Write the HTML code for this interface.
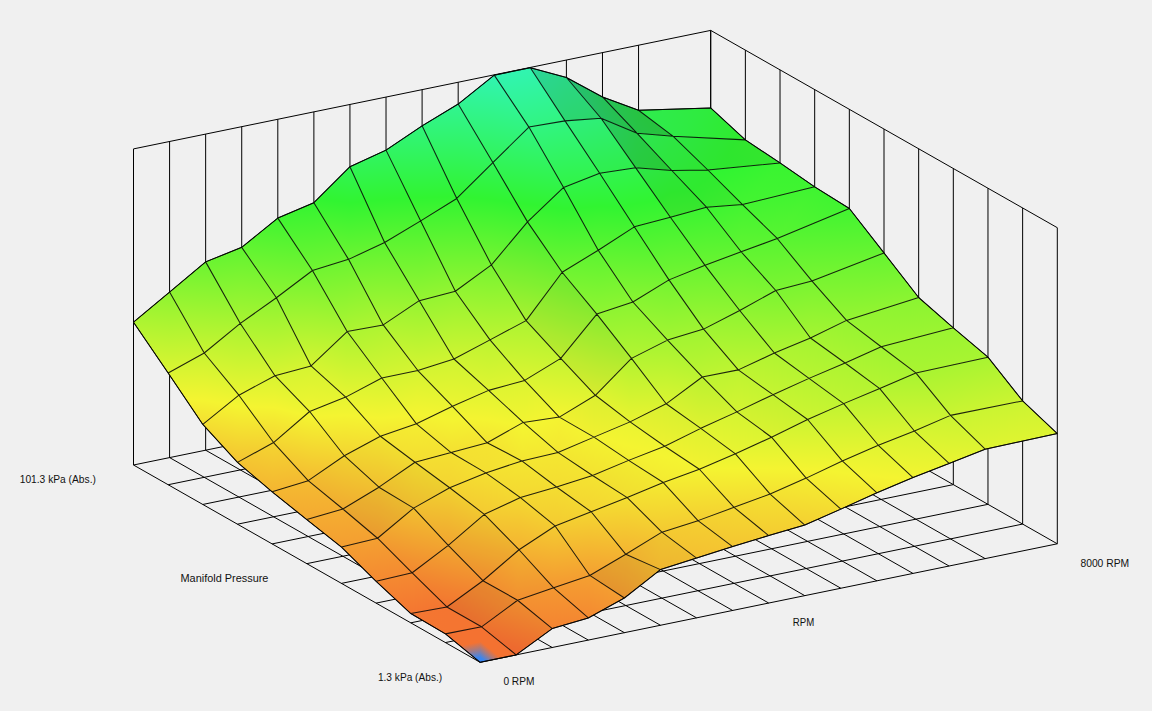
<!DOCTYPE html>
<html><head><meta charset="utf-8"><style>
html,body{margin:0;padding:0;background:#f0f0f0;}
svg{display:block}
.gl{stroke:#000;stroke-opacity:0.85;stroke-width:1.05;stroke-linejoin:round}
text{font-family:"Liberation Sans",sans-serif;font-size:11.2px;fill:#111}
</style></head><body>
<svg width="1152" height="711" viewBox="0 0 1152 711">
<defs><linearGradient id="g1" gradientUnits="userSpaceOnUse" x1="745.36" y1="139.87" x2="683.74" y2="112.55"><stop offset="0.000" stop-color="#34f431"/><stop offset="0.113" stop-color="#31f431"/><stop offset="1.000" stop-color="#31f449"/></linearGradient><linearGradient id="g2" gradientUnits="userSpaceOnUse" x1="710.7" y1="107.97" x2="638.98" y2="103.45"><stop offset="0.000" stop-color="#31f440"/><stop offset="1.000" stop-color="#31f452"/></linearGradient><linearGradient id="g3" gradientUnits="userSpaceOnUse" x1="673.21" y1="136.3" x2="646.23" y2="150.53"><stop offset="0.000" stop-color="#31f449"/><stop offset="1.000" stop-color="#31f458"/></linearGradient><linearGradient id="g4" gradientUnits="userSpaceOnUse" x1="638.55" y1="110.25" x2="607.01" y2="117.29"><stop offset="0.000" stop-color="#31f452"/><stop offset="1.000" stop-color="#31f470"/></linearGradient><linearGradient id="g5" gradientUnits="userSpaceOnUse" x1="780.02" y1="162.91" x2="708.34" y2="173.26"><stop offset="0.000" stop-color="#39f431"/><stop offset="0.698" stop-color="#31f431"/><stop offset="1.000" stop-color="#31f434"/></linearGradient><linearGradient id="g6" gradientUnits="userSpaceOnUse" x1="745.36" y1="139.87" x2="693.03" y2="105.83"><stop offset="0.000" stop-color="#34f431"/><stop offset="0.113" stop-color="#31f431"/><stop offset="1.000" stop-color="#31f449"/></linearGradient><linearGradient id="g7" gradientUnits="userSpaceOnUse" x1="637.14" y1="133.29" x2="608.72" y2="142.32"><stop offset="0.000" stop-color="#31f458"/><stop offset="1.000" stop-color="#31f479"/></linearGradient><linearGradient id="g8" gradientUnits="userSpaceOnUse" x1="602.48" y1="96.96" x2="573.21" y2="104.37"><stop offset="0.000" stop-color="#31f470"/><stop offset="1.000" stop-color="#31f498"/></linearGradient><linearGradient id="g9" gradientUnits="userSpaceOnUse" x1="707.87" y1="170" x2="675.49" y2="134.23"><stop offset="0.000" stop-color="#31f434"/><stop offset="1.000" stop-color="#31f449"/></linearGradient><linearGradient id="g10" gradientUnits="userSpaceOnUse" x1="671.8" y1="170.5" x2="632.58" y2="138.95"><stop offset="0.000" stop-color="#31f43e"/><stop offset="1.000" stop-color="#31f458"/></linearGradient><linearGradient id="g11" gradientUnits="userSpaceOnUse" x1="601.06" y1="118.23" x2="581.32" y2="71.2"><stop offset="0.000" stop-color="#31f479"/><stop offset="1.000" stop-color="#31f498"/></linearGradient><linearGradient id="g12" gradientUnits="userSpaceOnUse" x1="564.99" y1="120.88" x2="521.84" y2="75.85"><stop offset="0.000" stop-color="#31f480"/><stop offset="1.000" stop-color="#31f4b1"/></linearGradient><linearGradient id="g13" gradientUnits="userSpaceOnUse" x1="742.53" y1="204.55" x2="742.05" y2="163.35"><stop offset="0.000" stop-color="#43f431"/><stop offset="1.000" stop-color="#39f431"/></linearGradient><linearGradient id="g14" gradientUnits="userSpaceOnUse" x1="742.53" y1="204.55" x2="723.2" y2="162.89"><stop offset="0.000" stop-color="#43f431"/><stop offset="0.843" stop-color="#31f431"/><stop offset="1.000" stop-color="#31f434"/></linearGradient><linearGradient id="g15" gradientUnits="userSpaceOnUse" x1="671.8" y1="170.5" x2="633.46" y2="137.56"><stop offset="0.000" stop-color="#31f43e"/><stop offset="1.000" stop-color="#31f458"/></linearGradient><linearGradient id="g16" gradientUnits="userSpaceOnUse" x1="635.72" y1="167.85" x2="588.33" y2="146.49"><stop offset="0.000" stop-color="#31f44d"/><stop offset="1.000" stop-color="#31f479"/></linearGradient><linearGradient id="g17" gradientUnits="userSpaceOnUse" x1="564.99" y1="120.88" x2="551.45" y2="62.8"><stop offset="0.000" stop-color="#31f480"/><stop offset="1.000" stop-color="#31f4b1"/></linearGradient><linearGradient id="g18" gradientUnits="userSpaceOnUse" x1="528.91" y1="127.09" x2="517.32" y2="70.38"><stop offset="0.000" stop-color="#31f482"/><stop offset="1.000" stop-color="#31f4b1"/></linearGradient><linearGradient id="g19" gradientUnits="userSpaceOnUse" x1="492.84" y1="162.53" x2="505.48" y2="76.82"><stop offset="0.000" stop-color="#31f458"/><stop offset="1.000" stop-color="#31f4b1"/></linearGradient><linearGradient id="g20" gradientUnits="userSpaceOnUse" x1="492.84" y1="162.53" x2="498.4" y2="75.43"><stop offset="0.000" stop-color="#31f458"/><stop offset="1.000" stop-color="#31f4b1"/></linearGradient><linearGradient id="g21" gradientUnits="userSpaceOnUse" x1="742.53" y1="204.55" x2="719.91" y2="163.38"><stop offset="0.000" stop-color="#43f431"/><stop offset="0.843" stop-color="#31f431"/><stop offset="1.000" stop-color="#31f434"/></linearGradient><linearGradient id="g22" gradientUnits="userSpaceOnUse" x1="706.46" y1="207.21" x2="677.76" y2="166.32"><stop offset="0.000" stop-color="#3cf431"/><stop offset="0.456" stop-color="#31f431"/><stop offset="1.000" stop-color="#31f43e"/></linearGradient><linearGradient id="g23" gradientUnits="userSpaceOnUse" x1="635.72" y1="167.85" x2="621.63" y2="112.95"><stop offset="0.000" stop-color="#31f44d"/><stop offset="1.000" stop-color="#31f479"/></linearGradient><linearGradient id="g24" gradientUnits="userSpaceOnUse" x1="599.65" y1="173.32" x2="580.59" y2="115.72"><stop offset="0.000" stop-color="#31f450"/><stop offset="1.000" stop-color="#31f480"/></linearGradient><linearGradient id="g25" gradientUnits="userSpaceOnUse" x1="456.76" y1="198.48" x2="467.56" y2="105.14"><stop offset="0.000" stop-color="#33f431"/><stop offset="0.021" stop-color="#31f431"/><stop offset="1.000" stop-color="#31f491"/></linearGradient><linearGradient id="g26" gradientUnits="userSpaceOnUse" x1="456.76" y1="198.48" x2="452.54" y2="104.3"><stop offset="0.000" stop-color="#33f431"/><stop offset="0.021" stop-color="#31f431"/><stop offset="1.000" stop-color="#31f491"/></linearGradient><linearGradient id="g27" gradientUnits="userSpaceOnUse" x1="777.19" y1="238.48" x2="800.72" y2="181.11"><stop offset="0.000" stop-color="#58f431"/><stop offset="1.000" stop-color="#3ff431"/></linearGradient><linearGradient id="g28" gradientUnits="userSpaceOnUse" x1="777.19" y1="238.48" x2="770.98" y2="192.77"><stop offset="0.000" stop-color="#58f431"/><stop offset="1.000" stop-color="#3ff431"/></linearGradient><linearGradient id="g29" gradientUnits="userSpaceOnUse" x1="420.69" y1="220.91" x2="416.96" y2="126.05"><stop offset="0.000" stop-color="#49f431"/><stop offset="0.242" stop-color="#31f431"/><stop offset="1.000" stop-color="#31f47c"/></linearGradient><linearGradient id="g30" gradientUnits="userSpaceOnUse" x1="420.69" y1="220.91" x2="418.91" y2="125.91"><stop offset="0.000" stop-color="#49f431"/><stop offset="0.242" stop-color="#31f431"/><stop offset="1.000" stop-color="#31f47c"/></linearGradient><linearGradient id="g31" gradientUnits="userSpaceOnUse" x1="563.57" y1="187.49" x2="558.49" y2="121.38"><stop offset="0.000" stop-color="#31f446"/><stop offset="1.000" stop-color="#31f480"/></linearGradient><linearGradient id="g32" gradientUnits="userSpaceOnUse" x1="563.57" y1="187.49" x2="548.77" y2="122.56"><stop offset="0.000" stop-color="#31f446"/><stop offset="1.000" stop-color="#31f482"/></linearGradient><linearGradient id="g33" gradientUnits="userSpaceOnUse" x1="670.38" y1="217.21" x2="665.49" y2="171.17"><stop offset="0.000" stop-color="#40f431"/><stop offset="0.528" stop-color="#31f431"/><stop offset="1.000" stop-color="#31f43e"/></linearGradient><linearGradient id="g34" gradientUnits="userSpaceOnUse" x1="670.38" y1="217.21" x2="640.22" y2="165.24"><stop offset="0.000" stop-color="#40f431"/><stop offset="0.349" stop-color="#31f431"/><stop offset="1.000" stop-color="#31f44d"/></linearGradient><linearGradient id="g35" gradientUnits="userSpaceOnUse" x1="527.5" y1="221.87" x2="536.54" y2="127.82"><stop offset="0.000" stop-color="#43f431"/><stop offset="0.185" stop-color="#31f431"/><stop offset="1.000" stop-color="#31f482"/></linearGradient><linearGradient id="g36" gradientUnits="userSpaceOnUse" x1="527.5" y1="221.87" x2="537.65" y2="128.03"><stop offset="0.000" stop-color="#43f431"/><stop offset="0.185" stop-color="#31f431"/><stop offset="1.000" stop-color="#31f482"/></linearGradient><linearGradient id="g37" gradientUnits="userSpaceOnUse" x1="384.61" y1="242.53" x2="380.75" y2="150.34"><stop offset="0.000" stop-color="#5ef431"/><stop offset="0.470" stop-color="#31f431"/><stop offset="1.000" stop-color="#31f463"/></linearGradient><linearGradient id="g38" gradientUnits="userSpaceOnUse" x1="384.61" y1="242.53" x2="375.47" y2="151.18"><stop offset="0.000" stop-color="#5ef431"/><stop offset="0.470" stop-color="#31f431"/><stop offset="1.000" stop-color="#31f463"/></linearGradient><linearGradient id="g39" gradientUnits="userSpaceOnUse" x1="634.31" y1="226.83" x2="625.49" y2="169.41"><stop offset="0.000" stop-color="#43f431"/><stop offset="0.394" stop-color="#31f431"/><stop offset="1.000" stop-color="#31f44d"/></linearGradient><linearGradient id="g40" gradientUnits="userSpaceOnUse" x1="634.31" y1="226.83" x2="619.65" y2="168.31"><stop offset="0.000" stop-color="#43f431"/><stop offset="0.372" stop-color="#31f431"/><stop offset="1.000" stop-color="#31f450"/></linearGradient><linearGradient id="g41" gradientUnits="userSpaceOnUse" x1="491.42" y1="264.93" x2="506.85" y2="164.69"><stop offset="0.000" stop-color="#77f431"/><stop offset="0.640" stop-color="#31f431"/><stop offset="1.000" stop-color="#31f458"/></linearGradient><linearGradient id="g42" gradientUnits="userSpaceOnUse" x1="491.42" y1="264.93" x2="499.69" y2="163.09"><stop offset="0.000" stop-color="#77f431"/><stop offset="0.640" stop-color="#31f431"/><stop offset="1.000" stop-color="#31f458"/></linearGradient><linearGradient id="g43" gradientUnits="userSpaceOnUse" x1="741.12" y1="251.77" x2="741.84" y2="204.54"><stop offset="0.000" stop-color="#61f431"/><stop offset="1.000" stop-color="#43f431"/></linearGradient><linearGradient id="g44" gradientUnits="userSpaceOnUse" x1="741.12" y1="251.77" x2="721.96" y2="201.32"><stop offset="0.000" stop-color="#61f431"/><stop offset="1.000" stop-color="#3cf431"/></linearGradient><linearGradient id="g45" gradientUnits="userSpaceOnUse" x1="348.54" y1="259.37" x2="339.59" y2="167.72"><stop offset="0.000" stop-color="#6cf431"/><stop offset="0.612" stop-color="#31f431"/><stop offset="1.000" stop-color="#31f456"/></linearGradient><linearGradient id="g46" gradientUnits="userSpaceOnUse" x1="348.54" y1="259.37" x2="359.94" y2="167.95"><stop offset="0.000" stop-color="#6cf431"/><stop offset="0.612" stop-color="#31f431"/><stop offset="1.000" stop-color="#31f456"/></linearGradient><linearGradient id="g47" gradientUnits="userSpaceOnUse" x1="455.35" y1="291.26" x2="456.43" y2="198.48"><stop offset="0.000" stop-color="#93f431"/><stop offset="1.000" stop-color="#33f431"/></linearGradient><linearGradient id="g48" gradientUnits="userSpaceOnUse" x1="455.35" y1="291.26" x2="452.25" y2="198.63"><stop offset="0.000" stop-color="#93f431"/><stop offset="1.000" stop-color="#33f431"/></linearGradient><linearGradient id="g49" gradientUnits="userSpaceOnUse" x1="598.23" y1="250.23" x2="601.06" y2="173.37"><stop offset="0.000" stop-color="#5bf431"/><stop offset="0.573" stop-color="#31f431"/><stop offset="1.000" stop-color="#31f450"/></linearGradient><linearGradient id="g50" gradientUnits="userSpaceOnUse" x1="598.23" y1="250.23" x2="590.37" y2="174.28"><stop offset="0.000" stop-color="#5bf431"/><stop offset="0.573" stop-color="#31f431"/><stop offset="1.000" stop-color="#31f450"/></linearGradient><linearGradient id="g51" gradientUnits="userSpaceOnUse" x1="312.46" y1="270.53" x2="303.4" y2="204.11"><stop offset="0.000" stop-color="#71f431"/><stop offset="1.000" stop-color="#35f431"/></linearGradient><linearGradient id="g52" gradientUnits="userSpaceOnUse" x1="312.46" y1="270.53" x2="308.56" y2="202.99"><stop offset="0.000" stop-color="#71f431"/><stop offset="1.000" stop-color="#35f431"/></linearGradient><linearGradient id="g53" gradientUnits="userSpaceOnUse" x1="705.04" y1="265.32" x2="701.77" y2="207.48"><stop offset="0.000" stop-color="#69f431"/><stop offset="1.000" stop-color="#3cf431"/></linearGradient><linearGradient id="g54" gradientUnits="userSpaceOnUse" x1="705.04" y1="265.32" x2="696.94" y2="208.57"><stop offset="0.000" stop-color="#69f431"/><stop offset="1.000" stop-color="#3cf431"/></linearGradient><linearGradient id="g55" gradientUnits="userSpaceOnUse" x1="811.85" y1="280.91" x2="808.49" y2="210.4"><stop offset="0.000" stop-color="#79f431"/><stop offset="1.000" stop-color="#42f431"/></linearGradient><linearGradient id="g56" gradientUnits="userSpaceOnUse" x1="811.85" y1="280.91" x2="810.65" y2="209.1"><stop offset="0.000" stop-color="#79f431"/><stop offset="1.000" stop-color="#42f431"/></linearGradient><linearGradient id="g57" gradientUnits="userSpaceOnUse" x1="419.27" y1="300.66" x2="405.62" y2="223.58"><stop offset="0.000" stop-color="#96f431"/><stop offset="1.000" stop-color="#49f431"/></linearGradient><linearGradient id="g58" gradientUnits="userSpaceOnUse" x1="419.27" y1="300.66" x2="419.1" y2="220.91"><stop offset="0.000" stop-color="#96f431"/><stop offset="1.000" stop-color="#49f431"/></linearGradient><linearGradient id="g59" gradientUnits="userSpaceOnUse" x1="562.16" y1="272.25" x2="560.92" y2="187.53"><stop offset="0.000" stop-color="#70f431"/><stop offset="0.749" stop-color="#31f431"/><stop offset="1.000" stop-color="#31f446"/></linearGradient><linearGradient id="g60" gradientUnits="userSpaceOnUse" x1="562.16" y1="272.25" x2="574.58" y2="189.14"><stop offset="0.000" stop-color="#70f431"/><stop offset="0.749" stop-color="#31f431"/><stop offset="1.000" stop-color="#31f446"/></linearGradient><linearGradient id="g61" gradientUnits="userSpaceOnUse" x1="276.39" y1="297.72" x2="282.68" y2="218.49"><stop offset="0.000" stop-color="#8ef431"/><stop offset="1.000" stop-color="#41f431"/></linearGradient><linearGradient id="g62" gradientUnits="userSpaceOnUse" x1="276.39" y1="297.72" x2="285.01" y2="218.89"><stop offset="0.000" stop-color="#8ef431"/><stop offset="1.000" stop-color="#41f431"/></linearGradient><linearGradient id="g63" gradientUnits="userSpaceOnUse" x1="526.08" y1="320.63" x2="547.74" y2="226.53"><stop offset="0.000" stop-color="#acf431"/><stop offset="1.000" stop-color="#43f431"/></linearGradient><linearGradient id="g64" gradientUnits="userSpaceOnUse" x1="526.08" y1="320.63" x2="542.67" y2="224.49"><stop offset="0.000" stop-color="#acf431"/><stop offset="1.000" stop-color="#43f431"/></linearGradient><linearGradient id="g65" gradientUnits="userSpaceOnUse" x1="668.97" y1="279.87" x2="665.58" y2="217.48"><stop offset="0.000" stop-color="#74f431"/><stop offset="1.000" stop-color="#40f431"/></linearGradient><linearGradient id="g66" gradientUnits="userSpaceOnUse" x1="668.97" y1="279.87" x2="659.29" y2="218.98"><stop offset="0.000" stop-color="#74f431"/><stop offset="1.000" stop-color="#40f431"/></linearGradient><linearGradient id="g67" gradientUnits="userSpaceOnUse" x1="383.2" y1="324.93" x2="385.22" y2="242.55"><stop offset="0.000" stop-color="#aff431"/><stop offset="1.000" stop-color="#5ef431"/></linearGradient><linearGradient id="g68" gradientUnits="userSpaceOnUse" x1="383.2" y1="324.93" x2="376.86" y2="243.13"><stop offset="0.000" stop-color="#aff431"/><stop offset="1.000" stop-color="#5ef431"/></linearGradient><linearGradient id="g69" gradientUnits="userSpaceOnUse" x1="775.78" y1="290.48" x2="768.65" y2="239.68"><stop offset="0.000" stop-color="#7cf431"/><stop offset="1.000" stop-color="#58f431"/></linearGradient><linearGradient id="g70" gradientUnits="userSpaceOnUse" x1="775.78" y1="290.48" x2="774.35" y2="238.56"><stop offset="0.000" stop-color="#7cf431"/><stop offset="1.000" stop-color="#58f431"/></linearGradient><linearGradient id="g71" gradientUnits="userSpaceOnUse" x1="490" y1="339.87" x2="488.56" y2="264.99"><stop offset="0.000" stop-color="#bdf431"/><stop offset="1.000" stop-color="#77f431"/></linearGradient><linearGradient id="g72" gradientUnits="userSpaceOnUse" x1="490" y1="339.87" x2="497" y2="265.46"><stop offset="0.000" stop-color="#bdf431"/><stop offset="1.000" stop-color="#77f431"/></linearGradient><linearGradient id="g73" gradientUnits="userSpaceOnUse" x1="240.31" y1="323.42" x2="246.14" y2="247.68"><stop offset="0.000" stop-color="#a9f431"/><stop offset="1.000" stop-color="#61f431"/></linearGradient><linearGradient id="g74" gradientUnits="userSpaceOnUse" x1="240.31" y1="323.42" x2="233.06" y2="248.17"><stop offset="0.000" stop-color="#a9f431"/><stop offset="1.000" stop-color="#61f431"/></linearGradient><linearGradient id="g75" gradientUnits="userSpaceOnUse" x1="632.89" y1="302.02" x2="634.83" y2="226.85"><stop offset="0.000" stop-color="#8af431"/><stop offset="1.000" stop-color="#43f431"/></linearGradient><linearGradient id="g76" gradientUnits="userSpaceOnUse" x1="632.89" y1="302.02" x2="636.31" y2="226.92"><stop offset="0.000" stop-color="#8af431"/><stop offset="1.000" stop-color="#43f431"/></linearGradient><linearGradient id="g77" gradientUnits="userSpaceOnUse" x1="383.2" y1="324.93" x2="367.95" y2="255.13"><stop offset="0.000" stop-color="#aff431"/><stop offset="1.000" stop-color="#6cf431"/></linearGradient><linearGradient id="g78" gradientUnits="userSpaceOnUse" x1="347.12" y1="331.54" x2="337.03" y2="261.01"><stop offset="0.000" stop-color="#adf431"/><stop offset="1.000" stop-color="#6cf431"/></linearGradient><linearGradient id="g79" gradientUnits="userSpaceOnUse" x1="204.24" y1="353.01" x2="209.35" y2="262.08"><stop offset="0.000" stop-color="#c9f431"/><stop offset="1.000" stop-color="#6cf431"/></linearGradient><linearGradient id="g80" gradientUnits="userSpaceOnUse" x1="204.24" y1="353.01" x2="209.98" y2="262.15"><stop offset="0.000" stop-color="#c9f431"/><stop offset="1.000" stop-color="#6cf431"/></linearGradient><linearGradient id="g81" gradientUnits="userSpaceOnUse" x1="453.93" y1="359.01" x2="454.75" y2="291.26"><stop offset="0.000" stop-color="#cff431"/><stop offset="1.000" stop-color="#93f431"/></linearGradient><linearGradient id="g82" gradientUnits="userSpaceOnUse" x1="453.93" y1="359.01" x2="442.85" y2="293.37"><stop offset="0.000" stop-color="#cff431"/><stop offset="1.000" stop-color="#93f431"/></linearGradient><linearGradient id="g83" gradientUnits="userSpaceOnUse" x1="739.7" y1="310.51" x2="745.34" y2="252.18"><stop offset="0.000" stop-color="#8ff431"/><stop offset="1.000" stop-color="#61f431"/></linearGradient><linearGradient id="g84" gradientUnits="userSpaceOnUse" x1="739.7" y1="310.51" x2="736.22" y2="252.06"><stop offset="0.000" stop-color="#8ff431"/><stop offset="1.000" stop-color="#61f431"/></linearGradient><linearGradient id="g85" gradientUnits="userSpaceOnUse" x1="846.51" y1="320.39" x2="840.15" y2="257.35"><stop offset="0.000" stop-color="#96f431"/><stop offset="1.000" stop-color="#66f431"/></linearGradient><linearGradient id="g86" gradientUnits="userSpaceOnUse" x1="846.51" y1="320.39" x2="845.34" y2="253.61"><stop offset="0.000" stop-color="#96f431"/><stop offset="1.000" stop-color="#66f431"/></linearGradient><linearGradient id="g87" gradientUnits="userSpaceOnUse" x1="596.82" y1="314.07" x2="589.85" y2="251.15"><stop offset="0.000" stop-color="#90f431"/><stop offset="1.000" stop-color="#5bf431"/></linearGradient><linearGradient id="g88" gradientUnits="userSpaceOnUse" x1="596.82" y1="314.07" x2="602.89" y2="250.67"><stop offset="0.000" stop-color="#90f431"/><stop offset="1.000" stop-color="#5bf431"/></linearGradient><linearGradient id="g89" gradientUnits="userSpaceOnUse" x1="311.05" y1="365.95" x2="319.91" y2="271.23"><stop offset="0.000" stop-color="#d5f431"/><stop offset="1.000" stop-color="#71f431"/></linearGradient><linearGradient id="g90" gradientUnits="userSpaceOnUse" x1="311.05" y1="365.95" x2="312.27" y2="270.53"><stop offset="0.000" stop-color="#d5f431"/><stop offset="1.000" stop-color="#71f431"/></linearGradient><linearGradient id="g91" gradientUnits="userSpaceOnUse" x1="168.16" y1="373.04" x2="165.79" y2="292.16"><stop offset="0.000" stop-color="#dcf431"/><stop offset="1.000" stop-color="#8df431"/></linearGradient><linearGradient id="g92" gradientUnits="userSpaceOnUse" x1="168.16" y1="373.04" x2="177.29" y2="292.93"><stop offset="0.000" stop-color="#dcf431"/><stop offset="1.000" stop-color="#8df431"/></linearGradient><linearGradient id="g93" gradientUnits="userSpaceOnUse" x1="703.63" y1="329.11" x2="705.21" y2="265.32"><stop offset="0.000" stop-color="#9ff431"/><stop offset="1.000" stop-color="#69f431"/></linearGradient><linearGradient id="g94" gradientUnits="userSpaceOnUse" x1="703.63" y1="329.11" x2="699.88" y2="265.62"><stop offset="0.000" stop-color="#9ff431"/><stop offset="1.000" stop-color="#69f431"/></linearGradient><linearGradient id="g95" gradientUnits="userSpaceOnUse" x1="417.86" y1="370.53" x2="408.72" y2="302.06"><stop offset="0.000" stop-color="#d5f431"/><stop offset="1.000" stop-color="#96f431"/></linearGradient><linearGradient id="g96" gradientUnits="userSpaceOnUse" x1="417.86" y1="370.53" x2="424.32" y2="301.13"><stop offset="0.000" stop-color="#d5f431"/><stop offset="1.000" stop-color="#96f431"/></linearGradient><linearGradient id="g97" gradientUnits="userSpaceOnUse" x1="560.74" y1="358.38" x2="582.64" y2="277.82"><stop offset="0.000" stop-color="#c6f431"/><stop offset="1.000" stop-color="#70f431"/></linearGradient><linearGradient id="g98" gradientUnits="userSpaceOnUse" x1="560.74" y1="358.38" x2="586.26" y2="280.11"><stop offset="0.000" stop-color="#c6f431"/><stop offset="1.000" stop-color="#70f431"/></linearGradient><linearGradient id="g99" gradientUnits="userSpaceOnUse" x1="274.97" y1="375.69" x2="262.06" y2="300.17"><stop offset="0.000" stop-color="#d8f431"/><stop offset="1.000" stop-color="#8ef431"/></linearGradient><linearGradient id="g100" gradientUnits="userSpaceOnUse" x1="274.97" y1="375.69" x2="280.12" y2="297.97"><stop offset="0.000" stop-color="#d8f431"/><stop offset="1.000" stop-color="#8ef431"/></linearGradient><linearGradient id="g101" gradientUnits="userSpaceOnUse" x1="810.44" y1="337.97" x2="813.34" y2="280.99"><stop offset="0.000" stop-color="#a5f431"/><stop offset="1.000" stop-color="#79f431"/></linearGradient><linearGradient id="g102" gradientUnits="userSpaceOnUse" x1="810.44" y1="337.97" x2="802.02" y2="282.4"><stop offset="0.000" stop-color="#a5f431"/><stop offset="1.000" stop-color="#79f431"/></linearGradient><linearGradient id="g103" gradientUnits="userSpaceOnUse" x1="524.66" y1="380.4" x2="532.56" y2="321.5"><stop offset="0.000" stop-color="#dcf431"/><stop offset="1.000" stop-color="#acf431"/></linearGradient><linearGradient id="g104" gradientUnits="userSpaceOnUse" x1="524.66" y1="380.4" x2="528.74" y2="320.81"><stop offset="0.000" stop-color="#dcf431"/><stop offset="1.000" stop-color="#acf431"/></linearGradient><linearGradient id="g105" gradientUnits="userSpaceOnUse" x1="667.55" y1="340.12" x2="660.22" y2="280.96"><stop offset="0.000" stop-color="#a4f431"/><stop offset="1.000" stop-color="#74f431"/></linearGradient><linearGradient id="g106" gradientUnits="userSpaceOnUse" x1="667.55" y1="340.12" x2="675.39" y2="280.72"><stop offset="0.000" stop-color="#a4f431"/><stop offset="1.000" stop-color="#74f431"/></linearGradient><linearGradient id="g107" gradientUnits="userSpaceOnUse" x1="381.78" y1="377.97" x2="371.44" y2="327.33"><stop offset="0.000" stop-color="#d5f431"/><stop offset="1.000" stop-color="#aff431"/></linearGradient><linearGradient id="g108" gradientUnits="userSpaceOnUse" x1="381.78" y1="377.97" x2="370" y2="326.32"><stop offset="0.000" stop-color="#d5f431"/><stop offset="1.000" stop-color="#adf431"/></linearGradient><linearGradient id="g109" gradientUnits="userSpaceOnUse" x1="238.9" y1="395.19" x2="238.78" y2="323.42"><stop offset="0.000" stop-color="#eaf431"/><stop offset="1.000" stop-color="#a9f431"/></linearGradient><linearGradient id="g110" gradientUnits="userSpaceOnUse" x1="238.9" y1="395.19" x2="250.92" y2="325.24"><stop offset="0.000" stop-color="#eaf431"/><stop offset="1.000" stop-color="#a9f431"/></linearGradient><linearGradient id="g111" gradientUnits="userSpaceOnUse" x1="488.59" y1="390.38" x2="482.48" y2="340.8"><stop offset="0.000" stop-color="#e0f431"/><stop offset="1.000" stop-color="#bdf431"/></linearGradient><linearGradient id="g112" gradientUnits="userSpaceOnUse" x1="488.59" y1="390.38" x2="497.25" y2="341.15"><stop offset="0.000" stop-color="#e0f431"/><stop offset="1.000" stop-color="#bdf431"/></linearGradient><linearGradient id="g113" gradientUnits="userSpaceOnUse" x1="774.36" y1="353.04" x2="771.67" y2="290.66"><stop offset="0.000" stop-color="#b0f431"/><stop offset="1.000" stop-color="#7cf431"/></linearGradient><linearGradient id="g114" gradientUnits="userSpaceOnUse" x1="774.36" y1="353.04" x2="778.33" y2="290.64"><stop offset="0.000" stop-color="#b0f431"/><stop offset="1.000" stop-color="#7cf431"/></linearGradient><linearGradient id="g115" gradientUnits="userSpaceOnUse" x1="881.17" y1="346.79" x2="877.39" y2="300.91"><stop offset="0.000" stop-color="#a0f431"/><stop offset="1.000" stop-color="#8af431"/></linearGradient><linearGradient id="g116" gradientUnits="userSpaceOnUse" x1="881.17" y1="346.79" x2="885.29" y2="294.87"><stop offset="0.000" stop-color="#a0f431"/><stop offset="1.000" stop-color="#8af431"/></linearGradient><linearGradient id="g117" gradientUnits="userSpaceOnUse" x1="631.48" y1="358.38" x2="635.69" y2="302.23"><stop offset="0.000" stop-color="#b4f431"/><stop offset="1.000" stop-color="#8af431"/></linearGradient><linearGradient id="g118" gradientUnits="userSpaceOnUse" x1="631.48" y1="358.38" x2="626.66" y2="302.56"><stop offset="0.000" stop-color="#b4f431"/><stop offset="1.000" stop-color="#8af431"/></linearGradient><linearGradient id="g119" gradientUnits="userSpaceOnUse" x1="345.71" y1="397.11" x2="347.32" y2="331.55"><stop offset="0.000" stop-color="#e6f431"/><stop offset="1.000" stop-color="#adf431"/></linearGradient><linearGradient id="g120" gradientUnits="userSpaceOnUse" x1="345.71" y1="397.11" x2="365.47" y2="337.64"><stop offset="0.000" stop-color="#e6f431"/><stop offset="1.000" stop-color="#adf431"/></linearGradient><linearGradient id="g121" gradientUnits="userSpaceOnUse" x1="202.82" y1="424.46" x2="214.61" y2="354.76"><stop offset="0.000" stop-color="#f4de31"/><stop offset="0.341" stop-color="#f4f431"/><stop offset="1.000" stop-color="#c9f431"/></linearGradient><linearGradient id="g122" gradientUnits="userSpaceOnUse" x1="202.82" y1="424.46" x2="203.47" y2="353"><stop offset="0.000" stop-color="#f4de31"/><stop offset="0.341" stop-color="#f4f431"/><stop offset="1.000" stop-color="#c9f431"/></linearGradient><linearGradient id="g123" gradientUnits="userSpaceOnUse" x1="738.29" y1="369.87" x2="739.17" y2="310.5"><stop offset="0.000" stop-color="#bef431"/><stop offset="1.000" stop-color="#8ff431"/></linearGradient><linearGradient id="g124" gradientUnits="userSpaceOnUse" x1="738.29" y1="369.87" x2="741.66" y2="310.62"><stop offset="0.000" stop-color="#bef431"/><stop offset="1.000" stop-color="#8ff431"/></linearGradient><linearGradient id="g125" gradientUnits="userSpaceOnUse" x1="452.52" y1="406.33" x2="457.91" y2="359.47"><stop offset="0.000" stop-color="#ecf431"/><stop offset="1.000" stop-color="#cff431"/></linearGradient><linearGradient id="g126" gradientUnits="userSpaceOnUse" x1="452.52" y1="406.33" x2="450.05" y2="359.21"><stop offset="0.000" stop-color="#ecf431"/><stop offset="1.000" stop-color="#cff431"/></linearGradient><linearGradient id="g127" gradientUnits="userSpaceOnUse" x1="595.4" y1="395.29" x2="611.77" y2="317.21"><stop offset="0.000" stop-color="#e0f431"/><stop offset="1.000" stop-color="#90f431"/></linearGradient><linearGradient id="g128" gradientUnits="userSpaceOnUse" x1="595.4" y1="395.29" x2="618.89" y2="321.06"><stop offset="0.000" stop-color="#e0f431"/><stop offset="1.000" stop-color="#90f431"/></linearGradient><linearGradient id="g129" gradientUnits="userSpaceOnUse" x1="309.63" y1="411.52" x2="313.33" y2="366.13"><stop offset="0.000" stop-color="#f0f431"/><stop offset="1.000" stop-color="#d5f431"/></linearGradient><linearGradient id="g130" gradientUnits="userSpaceOnUse" x1="309.63" y1="411.52" x2="304.68" y2="366.65"><stop offset="0.000" stop-color="#f0f431"/><stop offset="1.000" stop-color="#d5f431"/></linearGradient><linearGradient id="g131" gradientUnits="userSpaceOnUse" x1="559.33" y1="417.09" x2="567.42" y2="359.31"><stop offset="0.000" stop-color="#f4f331"/><stop offset="0.012" stop-color="#f4f431"/><stop offset="1.000" stop-color="#c6f431"/></linearGradient><linearGradient id="g132" gradientUnits="userSpaceOnUse" x1="559.33" y1="417.09" x2="567.73" y2="359.4"><stop offset="0.000" stop-color="#f4f331"/><stop offset="0.012" stop-color="#f4f431"/><stop offset="1.000" stop-color="#c6f431"/></linearGradient><linearGradient id="g133" gradientUnits="userSpaceOnUse" x1="845.1" y1="363.02" x2="854.41" y2="322.2"><stop offset="0.000" stop-color="#adf431"/><stop offset="1.000" stop-color="#96f431"/></linearGradient><linearGradient id="g134" gradientUnits="userSpaceOnUse" x1="845.1" y1="363.02" x2="856.82" y2="323.45"><stop offset="0.000" stop-color="#adf431"/><stop offset="1.000" stop-color="#96f431"/></linearGradient><linearGradient id="g135" gradientUnits="userSpaceOnUse" x1="738.29" y1="369.87" x2="728.29" y2="323.77"><stop offset="0.000" stop-color="#bef431"/><stop offset="1.000" stop-color="#9ff431"/></linearGradient><linearGradient id="g136" gradientUnits="userSpaceOnUse" x1="702.21" y1="376.96" x2="698.66" y2="329.48"><stop offset="0.000" stop-color="#bdf431"/><stop offset="1.000" stop-color="#9ff431"/></linearGradient><linearGradient id="g137" gradientUnits="userSpaceOnUse" x1="416.44" y1="423.82" x2="421.01" y2="370.8"><stop offset="0.000" stop-color="#f4ed31"/><stop offset="0.177" stop-color="#f4f431"/><stop offset="1.000" stop-color="#d5f431"/></linearGradient><linearGradient id="g138" gradientUnits="userSpaceOnUse" x1="416.44" y1="423.82" x2="406.05" y2="372.94"><stop offset="0.000" stop-color="#f4ed31"/><stop offset="0.177" stop-color="#f4f431"/><stop offset="1.000" stop-color="#d5f431"/></linearGradient><linearGradient id="g139" gradientUnits="userSpaceOnUse" x1="273.56" y1="442.53" x2="289.24" y2="379.23"><stop offset="0.000" stop-color="#f4d531"/><stop offset="0.525" stop-color="#f4f431"/><stop offset="1.000" stop-color="#d8f431"/></linearGradient><linearGradient id="g140" gradientUnits="userSpaceOnUse" x1="273.56" y1="442.53" x2="275.16" y2="375.7"><stop offset="0.000" stop-color="#f4d531"/><stop offset="0.525" stop-color="#f4f431"/><stop offset="1.000" stop-color="#d8f431"/></linearGradient><linearGradient id="g141" gradientUnits="userSpaceOnUse" x1="559.33" y1="417.09" x2="545.94" y2="373.82"><stop offset="0.000" stop-color="#f4f331"/><stop offset="0.023" stop-color="#f4f431"/><stop offset="1.000" stop-color="#dcf431"/></linearGradient><linearGradient id="g142" gradientUnits="userSpaceOnUse" x1="523.25" y1="422.4" x2="520.09" y2="380.75"><stop offset="0.000" stop-color="#f2f431"/><stop offset="1.000" stop-color="#dcf431"/></linearGradient><linearGradient id="g143" gradientUnits="userSpaceOnUse" x1="809.02" y1="378.38" x2="818.65" y2="340.04"><stop offset="0.000" stop-color="#b8f431"/><stop offset="1.000" stop-color="#a5f431"/></linearGradient><linearGradient id="g144" gradientUnits="userSpaceOnUse" x1="809.02" y1="378.38" x2="818.06" y2="339.76"><stop offset="0.000" stop-color="#b8f431"/><stop offset="1.000" stop-color="#a5f431"/></linearGradient><linearGradient id="g145" gradientUnits="userSpaceOnUse" x1="666.14" y1="403.8" x2="678.37" y2="342.28"><stop offset="0.000" stop-color="#daf431"/><stop offset="1.000" stop-color="#a4f431"/></linearGradient><linearGradient id="g146" gradientUnits="userSpaceOnUse" x1="666.14" y1="403.8" x2="667.3" y2="340.12"><stop offset="0.000" stop-color="#daf431"/><stop offset="1.000" stop-color="#a4f431"/></linearGradient><linearGradient id="g147" gradientUnits="userSpaceOnUse" x1="237.48" y1="462.38" x2="239.41" y2="395.2"><stop offset="0.000" stop-color="#f4c331"/><stop offset="0.831" stop-color="#f4f431"/><stop offset="1.000" stop-color="#eaf431"/></linearGradient><linearGradient id="g148" gradientUnits="userSpaceOnUse" x1="237.48" y1="462.38" x2="251.04" y2="397.73"><stop offset="0.000" stop-color="#f4c331"/><stop offset="0.831" stop-color="#f4f431"/><stop offset="1.000" stop-color="#eaf431"/></linearGradient><linearGradient id="g149" gradientUnits="userSpaceOnUse" x1="380.37" y1="436.23" x2="375.46" y2="378.51"><stop offset="0.000" stop-color="#f4e631"/><stop offset="0.310" stop-color="#f4f431"/><stop offset="1.000" stop-color="#d5f431"/></linearGradient><linearGradient id="g150" gradientUnits="userSpaceOnUse" x1="380.37" y1="436.23" x2="384.98" y2="378.23"><stop offset="0.000" stop-color="#f4e631"/><stop offset="0.310" stop-color="#f4f431"/><stop offset="1.000" stop-color="#d5f431"/></linearGradient><linearGradient id="g151" gradientUnits="userSpaceOnUse" x1="915.83" y1="372.93" x2="909.44" y2="335.27"><stop offset="0.000" stop-color="#a9f431"/><stop offset="1.000" stop-color="#9af431"/></linearGradient><linearGradient id="g152" gradientUnits="userSpaceOnUse" x1="915.83" y1="372.93" x2="914.88" y2="328.65"><stop offset="0.000" stop-color="#a9f431"/><stop offset="1.000" stop-color="#9af431"/></linearGradient><linearGradient id="g153" gradientUnits="userSpaceOnUse" x1="772.95" y1="394.68" x2="783.26" y2="355.37"><stop offset="0.000" stop-color="#c5f431"/><stop offset="1.000" stop-color="#b0f431"/></linearGradient><linearGradient id="g154" gradientUnits="userSpaceOnUse" x1="772.95" y1="394.68" x2="784.23" y2="355.91"><stop offset="0.000" stop-color="#c5f431"/><stop offset="1.000" stop-color="#b0f431"/></linearGradient><linearGradient id="g155" gradientUnits="userSpaceOnUse" x1="630.06" y1="421.87" x2="631.05" y2="358.37"><stop offset="0.000" stop-color="#eaf431"/><stop offset="1.000" stop-color="#b4f431"/></linearGradient><linearGradient id="g156" gradientUnits="userSpaceOnUse" x1="630.06" y1="421.87" x2="652.88" y2="367.34"><stop offset="0.000" stop-color="#eaf431"/><stop offset="1.000" stop-color="#b4f431"/></linearGradient><linearGradient id="g157" gradientUnits="userSpaceOnUse" x1="487.18" y1="442.78" x2="496.58" y2="391.85"><stop offset="0.000" stop-color="#f4e431"/><stop offset="0.446" stop-color="#f4f431"/><stop offset="1.000" stop-color="#e0f431"/></linearGradient><linearGradient id="g158" gradientUnits="userSpaceOnUse" x1="487.18" y1="442.78" x2="489.77" y2="390.44"><stop offset="0.000" stop-color="#f4e431"/><stop offset="0.446" stop-color="#f4f431"/><stop offset="1.000" stop-color="#e0f431"/></linearGradient><linearGradient id="g159" gradientUnits="userSpaceOnUse" x1="344.29" y1="455.72" x2="349.24" y2="397.41"><stop offset="0.000" stop-color="#f4d431"/><stop offset="0.690" stop-color="#f4f431"/><stop offset="1.000" stop-color="#e6f431"/></linearGradient><linearGradient id="g160" gradientUnits="userSpaceOnUse" x1="344.29" y1="455.72" x2="342.05" y2="397.25"><stop offset="0.000" stop-color="#f4d431"/><stop offset="0.690" stop-color="#f4f431"/><stop offset="1.000" stop-color="#e6f431"/></linearGradient><linearGradient id="g161" gradientUnits="userSpaceOnUse" x1="593.99" y1="437.11" x2="602.09" y2="396.63"><stop offset="0.000" stop-color="#f4f331"/><stop offset="0.047" stop-color="#f4f431"/><stop offset="1.000" stop-color="#e0f431"/></linearGradient><linearGradient id="g162" gradientUnits="userSpaceOnUse" x1="593.99" y1="437.11" x2="612.03" y2="404.49"><stop offset="0.000" stop-color="#f4f331"/><stop offset="0.047" stop-color="#f4f431"/><stop offset="1.000" stop-color="#e0f431"/></linearGradient><linearGradient id="g163" gradientUnits="userSpaceOnUse" x1="879.76" y1="388.58" x2="888.69" y2="348.47"><stop offset="0.000" stop-color="#b5f431"/><stop offset="1.000" stop-color="#a0f431"/></linearGradient><linearGradient id="g164" gradientUnits="userSpaceOnUse" x1="879.76" y1="388.58" x2="889.81" y2="348.99"><stop offset="0.000" stop-color="#b5f431"/><stop offset="1.000" stop-color="#a0f431"/></linearGradient><linearGradient id="g165" gradientUnits="userSpaceOnUse" x1="451.1" y1="452.53" x2="445.94" y2="407.07"><stop offset="0.000" stop-color="#f4e031"/><stop offset="0.714" stop-color="#f4f431"/><stop offset="1.000" stop-color="#ecf431"/></linearGradient><linearGradient id="g166" gradientUnits="userSpaceOnUse" x1="451.1" y1="452.53" x2="459.91" y2="407.78"><stop offset="0.000" stop-color="#f4e031"/><stop offset="0.714" stop-color="#f4f431"/><stop offset="1.000" stop-color="#ecf431"/></linearGradient><linearGradient id="g167" gradientUnits="userSpaceOnUse" x1="736.87" y1="411.87" x2="748.46" y2="372.9"><stop offset="0.000" stop-color="#d4f431"/><stop offset="1.000" stop-color="#bef431"/></linearGradient><linearGradient id="g168" gradientUnits="userSpaceOnUse" x1="736.87" y1="411.87" x2="727.89" y2="371.28"><stop offset="0.000" stop-color="#d4f431"/><stop offset="1.000" stop-color="#bdf431"/></linearGradient><linearGradient id="g169" gradientUnits="userSpaceOnUse" x1="308.22" y1="480.63" x2="315.76" y2="412.19"><stop offset="0.000" stop-color="#f4bb31"/><stop offset="0.935" stop-color="#f4f431"/><stop offset="1.000" stop-color="#f0f431"/></linearGradient><linearGradient id="g170" gradientUnits="userSpaceOnUse" x1="308.22" y1="480.63" x2="322.94" y2="414.48"><stop offset="0.000" stop-color="#f4bb31"/><stop offset="0.935" stop-color="#f4f431"/><stop offset="1.000" stop-color="#f0f431"/></linearGradient><linearGradient id="g171" gradientUnits="userSpaceOnUse" x1="557.91" y1="452.4" x2="573" y2="424.47"><stop offset="0.000" stop-color="#f4e731"/><stop offset="1.000" stop-color="#f4f331"/></linearGradient><linearGradient id="g172" gradientUnits="userSpaceOnUse" x1="557.91" y1="452.4" x2="543.04" y2="414.62"><stop offset="0.000" stop-color="#f4e731"/><stop offset="0.835" stop-color="#f4f431"/><stop offset="1.000" stop-color="#f2f431"/></linearGradient><linearGradient id="g173" gradientUnits="userSpaceOnUse" x1="700.8" y1="428.35" x2="704.75" y2="377.16"><stop offset="0.000" stop-color="#e1f431"/><stop offset="1.000" stop-color="#bdf431"/></linearGradient><linearGradient id="g174" gradientUnits="userSpaceOnUse" x1="700.8" y1="428.35" x2="719.04" y2="383.86"><stop offset="0.000" stop-color="#e1f431"/><stop offset="1.000" stop-color="#bdf431"/></linearGradient><linearGradient id="g175" gradientUnits="userSpaceOnUse" x1="272.14" y1="491.8" x2="268.32" y2="442.94"><stop offset="0.000" stop-color="#f4b531"/><stop offset="1.000" stop-color="#f4d531"/></linearGradient><linearGradient id="g176" gradientUnits="userSpaceOnUse" x1="272.14" y1="491.8" x2="282.65" y2="444.56"><stop offset="0.000" stop-color="#f4b531"/><stop offset="1.000" stop-color="#f4d531"/></linearGradient><linearGradient id="g177" gradientUnits="userSpaceOnUse" x1="843.68" y1="403.63" x2="852.51" y2="364.71"><stop offset="0.000" stop-color="#c0f431"/><stop offset="1.000" stop-color="#adf431"/></linearGradient><linearGradient id="g178" gradientUnits="userSpaceOnUse" x1="843.68" y1="403.63" x2="853.11" y2="364.98"><stop offset="0.000" stop-color="#c0f431"/><stop offset="1.000" stop-color="#adf431"/></linearGradient><linearGradient id="g179" gradientUnits="userSpaceOnUse" x1="415.03" y1="462.28" x2="413.1" y2="423.99"><stop offset="0.000" stop-color="#f4dd31"/><stop offset="1.000" stop-color="#f4ed31"/></linearGradient><linearGradient id="g180" gradientUnits="userSpaceOnUse" x1="415.03" y1="462.28" x2="419.93" y2="424.27"><stop offset="0.000" stop-color="#f4dd31"/><stop offset="1.000" stop-color="#f4ed31"/></linearGradient><linearGradient id="g181" gradientUnits="userSpaceOnUse" x1="1022.64" y1="400.9" x2="1012.35" y2="352.02"><stop offset="0.000" stop-color="#cbf431"/><stop offset="1.000" stop-color="#a8f431"/></linearGradient><linearGradient id="g182" gradientUnits="userSpaceOnUse" x1="950.49" y1="415.37" x2="941.13" y2="366.05"><stop offset="0.000" stop-color="#caf431"/><stop offset="1.000" stop-color="#a8f431"/></linearGradient><linearGradient id="g183" gradientUnits="userSpaceOnUse" x1="664.72" y1="446.2" x2="677.09" y2="407.28"><stop offset="0.000" stop-color="#f0f431"/><stop offset="1.000" stop-color="#daf431"/></linearGradient><linearGradient id="g184" gradientUnits="userSpaceOnUse" x1="664.72" y1="446.2" x2="677.46" y2="407.52"><stop offset="0.000" stop-color="#f0f431"/><stop offset="1.000" stop-color="#daf431"/></linearGradient><linearGradient id="g185" gradientUnits="userSpaceOnUse" x1="521.84" y1="460.91" x2="516.83" y2="423.26"><stop offset="0.000" stop-color="#f4e631"/><stop offset="0.851" stop-color="#f4f431"/><stop offset="1.000" stop-color="#f2f431"/></linearGradient><linearGradient id="g186" gradientUnits="userSpaceOnUse" x1="487.18" y1="442.78" x2="508.16" y2="412.09"><stop offset="0.000" stop-color="#f4e431"/><stop offset="0.869" stop-color="#f4f431"/><stop offset="1.000" stop-color="#f2f431"/></linearGradient><linearGradient id="g187" gradientUnits="userSpaceOnUse" x1="807.61" y1="419.49" x2="817.56" y2="380.56"><stop offset="0.000" stop-color="#cdf431"/><stop offset="1.000" stop-color="#b8f431"/></linearGradient><linearGradient id="g188" gradientUnits="userSpaceOnUse" x1="807.61" y1="419.49" x2="818.4" y2="381.01"><stop offset="0.000" stop-color="#cdf431"/><stop offset="1.000" stop-color="#b8f431"/></linearGradient><linearGradient id="g189" gradientUnits="userSpaceOnUse" x1="378.95" y1="487.19" x2="395.27" y2="441.56"><stop offset="0.000" stop-color="#f4c331"/><stop offset="1.000" stop-color="#f4e631"/></linearGradient><linearGradient id="g190" gradientUnits="userSpaceOnUse" x1="378.95" y1="487.19" x2="387.87" y2="437.58"><stop offset="0.000" stop-color="#f4c331"/><stop offset="1.000" stop-color="#f4e631"/></linearGradient><linearGradient id="g191" gradientUnits="userSpaceOnUse" x1="914.42" y1="431.01" x2="914.12" y2="372.94"><stop offset="0.000" stop-color="#d6f431"/><stop offset="1.000" stop-color="#a9f431"/></linearGradient><linearGradient id="g192" gradientUnits="userSpaceOnUse" x1="914.42" y1="431.01" x2="914.12" y2="372.94"><stop offset="0.000" stop-color="#d6f431"/><stop offset="1.000" stop-color="#a9f431"/></linearGradient><linearGradient id="g193" gradientUnits="userSpaceOnUse" x1="628.64" y1="460.38" x2="637.74" y2="423.78"><stop offset="0.000" stop-color="#f4ee31"/><stop offset="0.371" stop-color="#f4f431"/><stop offset="1.000" stop-color="#eaf431"/></linearGradient><linearGradient id="g194" gradientUnits="userSpaceOnUse" x1="628.64" y1="460.38" x2="640" y2="425.07"><stop offset="0.000" stop-color="#f4ee31"/><stop offset="0.371" stop-color="#f4f431"/><stop offset="1.000" stop-color="#eaf431"/></linearGradient><linearGradient id="g195" gradientUnits="userSpaceOnUse" x1="342.88" y1="508.99" x2="353.82" y2="457.76"><stop offset="0.000" stop-color="#f4ae31"/><stop offset="1.000" stop-color="#f4d431"/></linearGradient><linearGradient id="g196" gradientUnits="userSpaceOnUse" x1="342.88" y1="508.99" x2="357.93" y2="459.9"><stop offset="0.000" stop-color="#f4ae31"/><stop offset="1.000" stop-color="#f4d431"/></linearGradient><linearGradient id="g197" gradientUnits="userSpaceOnUse" x1="771.53" y1="437.21" x2="783.58" y2="397.94"><stop offset="0.000" stop-color="#dcf431"/><stop offset="1.000" stop-color="#c5f431"/></linearGradient><linearGradient id="g198" gradientUnits="userSpaceOnUse" x1="771.53" y1="437.21" x2="782.67" y2="397.4"><stop offset="0.000" stop-color="#dcf431"/><stop offset="1.000" stop-color="#c5f431"/></linearGradient><linearGradient id="g199" gradientUnits="userSpaceOnUse" x1="485.76" y1="472.91" x2="510" y2="448.94"><stop offset="0.000" stop-color="#f4df31"/><stop offset="1.000" stop-color="#f4e631"/></linearGradient><linearGradient id="g200" gradientUnits="userSpaceOnUse" x1="485.76" y1="472.91" x2="496.26" y2="446.38"><stop offset="0.000" stop-color="#f4df31"/><stop offset="1.000" stop-color="#f4e431"/></linearGradient><linearGradient id="g201" gradientUnits="userSpaceOnUse" x1="878.34" y1="445.28" x2="876.59" y2="388.67"><stop offset="0.000" stop-color="#e1f431"/><stop offset="1.000" stop-color="#b5f431"/></linearGradient><linearGradient id="g202" gradientUnits="userSpaceOnUse" x1="878.34" y1="445.28" x2="877.73" y2="388.6"><stop offset="0.000" stop-color="#e1f431"/><stop offset="1.000" stop-color="#b5f431"/></linearGradient><linearGradient id="g203" gradientUnits="userSpaceOnUse" x1="306.8" y1="519.62" x2="306.78" y2="480.63"><stop offset="0.000" stop-color="#f4a931"/><stop offset="1.000" stop-color="#f4bb31"/></linearGradient><linearGradient id="g204" gradientUnits="userSpaceOnUse" x1="306.8" y1="519.62" x2="308.11" y2="480.63"><stop offset="0.000" stop-color="#f4a931"/><stop offset="1.000" stop-color="#f4bb31"/></linearGradient><linearGradient id="g205" gradientUnits="userSpaceOnUse" x1="985.15" y1="449.19" x2="977.84" y2="409.05"><stop offset="0.000" stop-color="#dff431"/><stop offset="1.000" stop-color="#cbf431"/></linearGradient><linearGradient id="g206" gradientUnits="userSpaceOnUse" x1="985.15" y1="449.19" x2="976.69" y2="409.75"><stop offset="0.000" stop-color="#dff431"/><stop offset="1.000" stop-color="#caf431"/></linearGradient><linearGradient id="g207" gradientUnits="userSpaceOnUse" x1="592.57" y1="475.44" x2="603.76" y2="440.22"><stop offset="0.000" stop-color="#f4e331"/><stop offset="1.000" stop-color="#f4f331"/></linearGradient><linearGradient id="g208" gradientUnits="userSpaceOnUse" x1="592.57" y1="475.44" x2="604.23" y2="440.53"><stop offset="0.000" stop-color="#f4e331"/><stop offset="1.000" stop-color="#f4f331"/></linearGradient><linearGradient id="g209" gradientUnits="userSpaceOnUse" x1="735.46" y1="453.82" x2="746.06" y2="414.34"><stop offset="0.000" stop-color="#e9f431"/><stop offset="1.000" stop-color="#d4f431"/></linearGradient><linearGradient id="g210" gradientUnits="userSpaceOnUse" x1="735.46" y1="453.82" x2="745.82" y2="414.21"><stop offset="0.000" stop-color="#e9f431"/><stop offset="1.000" stop-color="#d4f431"/></linearGradient><linearGradient id="g211" gradientUnits="userSpaceOnUse" x1="449.69" y1="487.72" x2="464.12" y2="459.1"><stop offset="0.000" stop-color="#f4d431"/><stop offset="1.000" stop-color="#f4e031"/></linearGradient><linearGradient id="g212" gradientUnits="userSpaceOnUse" x1="449.69" y1="487.72" x2="450.16" y2="452.52"><stop offset="0.000" stop-color="#f4d431"/><stop offset="1.000" stop-color="#f4e031"/></linearGradient><linearGradient id="g213" gradientUnits="userSpaceOnUse" x1="842.27" y1="460.91" x2="842.26" y2="403.63"><stop offset="0.000" stop-color="#edf431"/><stop offset="1.000" stop-color="#c0f431"/></linearGradient><linearGradient id="g214" gradientUnits="userSpaceOnUse" x1="842.27" y1="460.91" x2="842.59" y2="403.63"><stop offset="0.000" stop-color="#edf431"/><stop offset="1.000" stop-color="#c0f431"/></linearGradient><linearGradient id="g215" gradientUnits="userSpaceOnUse" x1="699.38" y1="469.24" x2="708.68" y2="430.23"><stop offset="0.000" stop-color="#f4f331"/><stop offset="0.055" stop-color="#f4f431"/><stop offset="1.000" stop-color="#e1f431"/></linearGradient><linearGradient id="g216" gradientUnits="userSpaceOnUse" x1="699.38" y1="469.24" x2="713.06" y2="432.98"><stop offset="0.000" stop-color="#f4f331"/><stop offset="0.055" stop-color="#f4f431"/><stop offset="1.000" stop-color="#e1f431"/></linearGradient><linearGradient id="g217" gradientUnits="userSpaceOnUse" x1="556.5" y1="486.96" x2="563.7" y2="453.66"><stop offset="0.000" stop-color="#f4dd31"/><stop offset="1.000" stop-color="#f4e731"/></linearGradient><linearGradient id="g218" gradientUnits="userSpaceOnUse" x1="556.5" y1="486.96" x2="553.28" y2="452.84"><stop offset="0.000" stop-color="#f4dd31"/><stop offset="1.000" stop-color="#f4e731"/></linearGradient><linearGradient id="g219" gradientUnits="userSpaceOnUse" x1="413.61" y1="508.1" x2="427.24" y2="466.26"><stop offset="0.000" stop-color="#f4c131"/><stop offset="1.000" stop-color="#f4dd31"/></linearGradient><linearGradient id="g220" gradientUnits="userSpaceOnUse" x1="413.61" y1="508.1" x2="432.63" y2="471.41"><stop offset="0.000" stop-color="#f4c131"/><stop offset="1.000" stop-color="#f4dd31"/></linearGradient><linearGradient id="g221" gradientUnits="userSpaceOnUse" x1="949.08" y1="463.47" x2="951.08" y2="415.39"><stop offset="0.000" stop-color="#e9f431"/><stop offset="1.000" stop-color="#caf431"/></linearGradient><linearGradient id="g222" gradientUnits="userSpaceOnUse" x1="949.08" y1="463.47" x2="953.46" y2="415.64"><stop offset="0.000" stop-color="#e9f431"/><stop offset="1.000" stop-color="#caf431"/></linearGradient><linearGradient id="g223" gradientUnits="userSpaceOnUse" x1="806.19" y1="478.1" x2="807.88" y2="419.5"><stop offset="0.000" stop-color="#f4ed31"/><stop offset="0.149" stop-color="#f4f431"/><stop offset="1.000" stop-color="#cdf431"/></linearGradient><linearGradient id="g224" gradientUnits="userSpaceOnUse" x1="806.19" y1="478.1" x2="808.64" y2="419.53"><stop offset="0.000" stop-color="#f4ed31"/><stop offset="0.149" stop-color="#f4f431"/><stop offset="1.000" stop-color="#cdf431"/></linearGradient><linearGradient id="g225" gradientUnits="userSpaceOnUse" x1="377.54" y1="538.23" x2="398.95" y2="497.78"><stop offset="0.000" stop-color="#f4a031"/><stop offset="1.000" stop-color="#f4c331"/></linearGradient><linearGradient id="g226" gradientUnits="userSpaceOnUse" x1="377.54" y1="538.23" x2="389.78" y2="489.94"><stop offset="0.000" stop-color="#f4a031"/><stop offset="1.000" stop-color="#f4c331"/></linearGradient><linearGradient id="g227" gradientUnits="userSpaceOnUse" x1="663.31" y1="482.53" x2="672.94" y2="448.53"><stop offset="0.000" stop-color="#f4ea31"/><stop offset="0.723" stop-color="#f4f431"/><stop offset="1.000" stop-color="#f0f431"/></linearGradient><linearGradient id="g228" gradientUnits="userSpaceOnUse" x1="663.31" y1="482.53" x2="675.02" y2="449.9"><stop offset="0.000" stop-color="#f4ea31"/><stop offset="0.723" stop-color="#f4f431"/><stop offset="1.000" stop-color="#f0f431"/></linearGradient><linearGradient id="g229" gradientUnits="userSpaceOnUse" x1="520.42" y1="497.59" x2="522.24" y2="460.93"><stop offset="0.000" stop-color="#f4d831"/><stop offset="1.000" stop-color="#f4e631"/></linearGradient><linearGradient id="g230" gradientUnits="userSpaceOnUse" x1="520.42" y1="497.59" x2="526.16" y2="461.6"><stop offset="0.000" stop-color="#f4d831"/><stop offset="1.000" stop-color="#f4e631"/></linearGradient><linearGradient id="g231" gradientUnits="userSpaceOnUse" x1="913" y1="477.55" x2="915.52" y2="431.07"><stop offset="0.000" stop-color="#f3f431"/><stop offset="1.000" stop-color="#d6f431"/></linearGradient><linearGradient id="g232" gradientUnits="userSpaceOnUse" x1="913" y1="477.55" x2="915.87" y2="431.1"><stop offset="0.000" stop-color="#f3f431"/><stop offset="1.000" stop-color="#d6f431"/></linearGradient><linearGradient id="g233" gradientUnits="userSpaceOnUse" x1="770.12" y1="494.05" x2="770.75" y2="437.2"><stop offset="0.000" stop-color="#f4e131"/><stop offset="0.446" stop-color="#f4f431"/><stop offset="1.000" stop-color="#dcf431"/></linearGradient><linearGradient id="g234" gradientUnits="userSpaceOnUse" x1="770.12" y1="494.05" x2="771.71" y2="437.22"><stop offset="0.000" stop-color="#f4e131"/><stop offset="0.446" stop-color="#f4f431"/><stop offset="1.000" stop-color="#dcf431"/></linearGradient><linearGradient id="g235" gradientUnits="userSpaceOnUse" x1="341.46" y1="547.09" x2="337.48" y2="509.56"><stop offset="0.000" stop-color="#f49e31"/><stop offset="1.000" stop-color="#f4ae31"/></linearGradient><linearGradient id="g236" gradientUnits="userSpaceOnUse" x1="341.46" y1="547.09" x2="342.08" y2="508.97"><stop offset="0.000" stop-color="#f49e31"/><stop offset="1.000" stop-color="#f4ae31"/></linearGradient><linearGradient id="g237" gradientUnits="userSpaceOnUse" x1="627.23" y1="497.59" x2="639.7" y2="464.55"><stop offset="0.000" stop-color="#f4df31"/><stop offset="1.000" stop-color="#f4ee31"/></linearGradient><linearGradient id="g238" gradientUnits="userSpaceOnUse" x1="627.23" y1="497.59" x2="639.7" y2="464.55"><stop offset="0.000" stop-color="#f4df31"/><stop offset="1.000" stop-color="#f4ee31"/></linearGradient><linearGradient id="g239" gradientUnits="userSpaceOnUse" x1="484.35" y1="514.3" x2="495.63" y2="475.8"><stop offset="0.000" stop-color="#f4ca31"/><stop offset="1.000" stop-color="#f4df31"/></linearGradient><linearGradient id="g240" gradientUnits="userSpaceOnUse" x1="484.35" y1="514.3" x2="491.96" y2="474.08"><stop offset="0.000" stop-color="#f4ca31"/><stop offset="1.000" stop-color="#f4df31"/></linearGradient><linearGradient id="g241" gradientUnits="userSpaceOnUse" x1="876.93" y1="492.8" x2="880.97" y2="445.51"><stop offset="0.000" stop-color="#f4ea31"/><stop offset="0.347" stop-color="#f4f431"/><stop offset="1.000" stop-color="#e1f431"/></linearGradient><linearGradient id="g242" gradientUnits="userSpaceOnUse" x1="876.93" y1="492.8" x2="881.63" y2="445.61"><stop offset="0.000" stop-color="#f4ea31"/><stop offset="0.347" stop-color="#f4f431"/><stop offset="1.000" stop-color="#e1f431"/></linearGradient><linearGradient id="g243" gradientUnits="userSpaceOnUse" x1="734.04" y1="507.34" x2="732.02" y2="453.95"><stop offset="0.000" stop-color="#f4d831"/><stop offset="0.725" stop-color="#f4f431"/><stop offset="1.000" stop-color="#e9f431"/></linearGradient><linearGradient id="g244" gradientUnits="userSpaceOnUse" x1="734.04" y1="507.34" x2="735.29" y2="453.82"><stop offset="0.000" stop-color="#f4d831"/><stop offset="0.725" stop-color="#f4f431"/><stop offset="1.000" stop-color="#e9f431"/></linearGradient><linearGradient id="g245" gradientUnits="userSpaceOnUse" x1="591.15" y1="511.77" x2="602.87" y2="479.14"><stop offset="0.000" stop-color="#f4d531"/><stop offset="1.000" stop-color="#f4e331"/></linearGradient><linearGradient id="g246" gradientUnits="userSpaceOnUse" x1="591.15" y1="511.77" x2="595.95" y2="475.89"><stop offset="0.000" stop-color="#f4d531"/><stop offset="1.000" stop-color="#f4e331"/></linearGradient><linearGradient id="g247" gradientUnits="userSpaceOnUse" x1="448.27" y1="545.31" x2="467.94" y2="494.83"><stop offset="0.000" stop-color="#f4a831"/><stop offset="1.000" stop-color="#f4d431"/></linearGradient><linearGradient id="g248" gradientUnits="userSpaceOnUse" x1="448.27" y1="545.31" x2="454.94" y2="488.34"><stop offset="0.000" stop-color="#f4a831"/><stop offset="1.000" stop-color="#f4d431"/></linearGradient><linearGradient id="g249" gradientUnits="userSpaceOnUse" x1="840.85" y1="509.11" x2="846.32" y2="461.38"><stop offset="0.000" stop-color="#f4dd31"/><stop offset="0.759" stop-color="#f4f431"/><stop offset="1.000" stop-color="#edf431"/></linearGradient><linearGradient id="g250" gradientUnits="userSpaceOnUse" x1="840.85" y1="509.11" x2="847.8" y2="461.72"><stop offset="0.000" stop-color="#f4dd31"/><stop offset="0.759" stop-color="#f4f431"/><stop offset="1.000" stop-color="#edf431"/></linearGradient><linearGradient id="g251" gradientUnits="userSpaceOnUse" x1="412.2" y1="572.77" x2="424.73" y2="510.33"><stop offset="0.000" stop-color="#f48a31"/><stop offset="1.000" stop-color="#f4c131"/></linearGradient><linearGradient id="g252" gradientUnits="userSpaceOnUse" x1="412.2" y1="572.77" x2="427.82" y2="511.74"><stop offset="0.000" stop-color="#f48a31"/><stop offset="1.000" stop-color="#f4c131"/></linearGradient><linearGradient id="g253" gradientUnits="userSpaceOnUse" x1="697.97" y1="520.63" x2="696.78" y2="469.3"><stop offset="0.000" stop-color="#f4cf31"/><stop offset="1.000" stop-color="#f4f331"/></linearGradient><linearGradient id="g254" gradientUnits="userSpaceOnUse" x1="697.97" y1="520.63" x2="696.78" y2="469.3"><stop offset="0.000" stop-color="#f4cf31"/><stop offset="1.000" stop-color="#f4f331"/></linearGradient><linearGradient id="g255" gradientUnits="userSpaceOnUse" x1="555.08" y1="525.95" x2="563.66" y2="488.61"><stop offset="0.000" stop-color="#f4cb31"/><stop offset="1.000" stop-color="#f4dd31"/></linearGradient><linearGradient id="g256" gradientUnits="userSpaceOnUse" x1="555.08" y1="525.95" x2="555.06" y2="486.96"><stop offset="0.000" stop-color="#f4cb31"/><stop offset="1.000" stop-color="#f4dd31"/></linearGradient><linearGradient id="g257" gradientUnits="userSpaceOnUse" x1="804.78" y1="525.06" x2="810.39" y2="478.61"><stop offset="0.000" stop-color="#f4d031"/><stop offset="1.000" stop-color="#f4ed31"/></linearGradient><linearGradient id="g258" gradientUnits="userSpaceOnUse" x1="804.78" y1="525.06" x2="810.39" y2="478.61"><stop offset="0.000" stop-color="#f4d031"/><stop offset="1.000" stop-color="#f4ed31"/></linearGradient><linearGradient id="g259" gradientUnits="userSpaceOnUse" x1="376.12" y1="581.29" x2="369.7" y2="539.43"><stop offset="0.000" stop-color="#f48931"/><stop offset="1.000" stop-color="#f4a031"/></linearGradient><linearGradient id="g260" gradientUnits="userSpaceOnUse" x1="376.12" y1="581.29" x2="370.35" y2="539.21"><stop offset="0.000" stop-color="#f48931"/><stop offset="1.000" stop-color="#f4a031"/></linearGradient><linearGradient id="g261" gradientUnits="userSpaceOnUse" x1="661.89" y1="532.15" x2="658.53" y2="482.86"><stop offset="0.000" stop-color="#f4c931"/><stop offset="1.000" stop-color="#f4ea31"/></linearGradient><linearGradient id="g262" gradientUnits="userSpaceOnUse" x1="661.89" y1="532.15" x2="664.45" y2="482.59"><stop offset="0.000" stop-color="#f4c931"/><stop offset="1.000" stop-color="#f4ea31"/></linearGradient><linearGradient id="g263" gradientUnits="userSpaceOnUse" x1="519.01" y1="549.74" x2="533.28" y2="501.39"><stop offset="0.000" stop-color="#f4b331"/><stop offset="1.000" stop-color="#f4d831"/></linearGradient><linearGradient id="g264" gradientUnits="userSpaceOnUse" x1="519.01" y1="549.74" x2="522.93" y2="497.78"><stop offset="0.000" stop-color="#f4b331"/><stop offset="1.000" stop-color="#f4d831"/></linearGradient><linearGradient id="g265" gradientUnits="userSpaceOnUse" x1="768.7" y1="535.59" x2="766.94" y2="494.18"><stop offset="0.000" stop-color="#f4cc31"/><stop offset="1.000" stop-color="#f4e131"/></linearGradient><linearGradient id="g266" gradientUnits="userSpaceOnUse" x1="768.7" y1="535.59" x2="772.97" y2="494.35"><stop offset="0.000" stop-color="#f4cc31"/><stop offset="1.000" stop-color="#f4e131"/></linearGradient><linearGradient id="g267" gradientUnits="userSpaceOnUse" x1="482.93" y1="580.74" x2="498.77" y2="517.94"><stop offset="0.000" stop-color="#f49131"/><stop offset="1.000" stop-color="#f4ca31"/></linearGradient><linearGradient id="g268" gradientUnits="userSpaceOnUse" x1="482.93" y1="580.74" x2="498.78" y2="517.95"><stop offset="0.000" stop-color="#f49131"/><stop offset="1.000" stop-color="#f4ca31"/></linearGradient><linearGradient id="g269" gradientUnits="userSpaceOnUse" x1="625.82" y1="554.3" x2="635.39" y2="499.01"><stop offset="0.000" stop-color="#f4b431"/><stop offset="1.000" stop-color="#f4df31"/></linearGradient><linearGradient id="g270" gradientUnits="userSpaceOnUse" x1="625.82" y1="554.3" x2="623.93" y2="497.7"><stop offset="0.000" stop-color="#f4b431"/><stop offset="1.000" stop-color="#f4df31"/></linearGradient><linearGradient id="g271" gradientUnits="userSpaceOnUse" x1="446.86" y1="606.96" x2="459.27" y2="547.62"><stop offset="0.000" stop-color="#f47531"/><stop offset="1.000" stop-color="#f4a831"/></linearGradient><linearGradient id="g272" gradientUnits="userSpaceOnUse" x1="446.86" y1="606.96" x2="460.77" y2="548.28"><stop offset="0.000" stop-color="#f47531"/><stop offset="1.000" stop-color="#f4a831"/></linearGradient><linearGradient id="g273" gradientUnits="userSpaceOnUse" x1="732.62" y1="546.58" x2="733.31" y2="507.33"><stop offset="0.000" stop-color="#f4c631"/><stop offset="1.000" stop-color="#f4d831"/></linearGradient><linearGradient id="g274" gradientUnits="userSpaceOnUse" x1="732.62" y1="546.58" x2="738.91" y2="508.14"><stop offset="0.000" stop-color="#f4c631"/><stop offset="1.000" stop-color="#f4d831"/></linearGradient><linearGradient id="g275" gradientUnits="userSpaceOnUse" x1="589.74" y1="575.43" x2="594.71" y2="512.05"><stop offset="0.000" stop-color="#f4a031"/><stop offset="1.000" stop-color="#f4d531"/></linearGradient><linearGradient id="g276" gradientUnits="userSpaceOnUse" x1="589.74" y1="575.43" x2="585.54" y2="512.14"><stop offset="0.000" stop-color="#f4a031"/><stop offset="1.000" stop-color="#f4d531"/></linearGradient><linearGradient id="g277" gradientUnits="userSpaceOnUse" x1="446.86" y1="606.96" x2="436.7" y2="566.6"><stop offset="0.000" stop-color="#f47531"/><stop offset="1.000" stop-color="#f48a31"/></linearGradient><linearGradient id="g278" gradientUnits="userSpaceOnUse" x1="410.78" y1="613.52" x2="405.05" y2="573.8"><stop offset="0.000" stop-color="#f47631"/><stop offset="1.000" stop-color="#f48a31"/></linearGradient><linearGradient id="g279" gradientUnits="userSpaceOnUse" x1="696.55" y1="558.1" x2="700.11" y2="520.84"><stop offset="0.000" stop-color="#f4c031"/><stop offset="1.000" stop-color="#f4cf31"/></linearGradient><linearGradient id="g280" gradientUnits="userSpaceOnUse" x1="696.55" y1="558.1" x2="700.11" y2="520.84"><stop offset="0.000" stop-color="#f4c031"/><stop offset="1.000" stop-color="#f4cf31"/></linearGradient><linearGradient id="g281" gradientUnits="userSpaceOnUse" x1="553.67" y1="587.83" x2="547.69" y2="526.67"><stop offset="0.000" stop-color="#f49831"/><stop offset="1.000" stop-color="#f4cb31"/></linearGradient><linearGradient id="g282" gradientUnits="userSpaceOnUse" x1="553.67" y1="587.83" x2="562.91" y2="527.14"><stop offset="0.000" stop-color="#f49831"/><stop offset="1.000" stop-color="#f4cb31"/></linearGradient><linearGradient id="g283" gradientUnits="userSpaceOnUse" x1="517.59" y1="600.23" x2="515.34" y2="549.91"><stop offset="0.000" stop-color="#f49131"/><stop offset="1.000" stop-color="#f4b331"/></linearGradient><linearGradient id="g284" gradientUnits="userSpaceOnUse" x1="482.93" y1="580.74" x2="505.38" y2="541.87"><stop offset="0.000" stop-color="#f49131"/><stop offset="1.000" stop-color="#f4b331"/></linearGradient><linearGradient id="g285" gradientUnits="userSpaceOnUse" x1="660.48" y1="569.62" x2="664.04" y2="532.35"><stop offset="0.000" stop-color="#f4ba31"/><stop offset="1.000" stop-color="#f4c931"/></linearGradient><linearGradient id="g286" gradientUnits="userSpaceOnUse" x1="625.82" y1="554.3" x2="653.38" y2="524.32"><stop offset="0.000" stop-color="#f4b431"/><stop offset="1.000" stop-color="#f4c931"/></linearGradient><linearGradient id="g287" gradientUnits="userSpaceOnUse" x1="481.52" y1="626.8" x2="502.12" y2="591.26"><stop offset="0.000" stop-color="#f47531"/><stop offset="1.000" stop-color="#f49131"/></linearGradient><linearGradient id="g288" gradientUnits="userSpaceOnUse" x1="481.52" y1="626.8" x2="501.57" y2="591.27"><stop offset="0.000" stop-color="#f47531"/><stop offset="1.000" stop-color="#f49131"/></linearGradient><linearGradient id="g289" gradientUnits="userSpaceOnUse" x1="624.4" y1="597.97" x2="651.97" y2="562.93"><stop offset="0.000" stop-color="#f49c31"/><stop offset="1.000" stop-color="#f4ba31"/></linearGradient><linearGradient id="g290" gradientUnits="userSpaceOnUse" x1="624.4" y1="597.97" x2="640.55" y2="560.68"><stop offset="0.000" stop-color="#f49c31"/><stop offset="1.000" stop-color="#f4b431"/></linearGradient><linearGradient id="g291" gradientUnits="userSpaceOnUse" x1="446.86" y1="606.96" x2="411.89" y2="617.27"><stop offset="0.000" stop-color="#f47531"/><stop offset="1.000" stop-color="#f47631"/></linearGradient><linearGradient id="g292" gradientUnits="userSpaceOnUse" x1="588.33" y1="617.95" x2="603.79" y2="581.37"><stop offset="0.000" stop-color="#f48931"/><stop offset="1.000" stop-color="#f4a031"/></linearGradient><linearGradient id="g293" gradientUnits="userSpaceOnUse" x1="588.33" y1="617.95" x2="590" y2="575.44"><stop offset="0.000" stop-color="#f48931"/><stop offset="1.000" stop-color="#f4a031"/></linearGradient><linearGradient id="g294" gradientUnits="userSpaceOnUse" x1="552.25" y1="628.57" x2="551.14" y2="587.9"><stop offset="0.000" stop-color="#f48431"/><stop offset="1.000" stop-color="#f49831"/></linearGradient><linearGradient id="g295" gradientUnits="userSpaceOnUse" x1="552.25" y1="628.57" x2="555.17" y2="587.94"><stop offset="0.000" stop-color="#f48431"/><stop offset="1.000" stop-color="#f49831"/></linearGradient><linearGradient id="g296" gradientUnits="userSpaceOnUse" x1="516.18" y1="654.89" x2="532.18" y2="604.9"><stop offset="0.000" stop-color="#f46931"/><stop offset="1.000" stop-color="#f49131"/></linearGradient><linearGradient id="g297" gradientUnits="userSpaceOnUse" x1="516.18" y1="654.89" x2="532.48" y2="605.1"><stop offset="0.000" stop-color="#f46931"/><stop offset="1.000" stop-color="#f49131"/></linearGradient><linearGradient id="g298" gradientUnits="userSpaceOnUse" x1="480.1" y1="662.3" x2="498.03" y2="640.18"><stop offset="0" stop-color="#3a86f0"/><stop offset="0.14" stop-color="#3a86f0"/><stop offset="0.34" stop-color="#977c90"/><stop offset="0.58" stop-color="#f47231"/></linearGradient><linearGradient id="g299" gradientUnits="userSpaceOnUse" x1="480.1" y1="662.3" x2="473.44" y2="628.39"><stop offset="0" stop-color="#3a86f0"/><stop offset="0.14" stop-color="#3a86f0"/><stop offset="0.34" stop-color="#977c90"/><stop offset="0.58" stop-color="#f47231"/></linearGradient></defs>
<rect width="1152" height="711" fill="#f0f0f0"/>
<path d="M480.1,662.3 L1057.3,543.8 M445.44,642.57 L1022.64,524.07 M410.78,622.84 L987.98,504.34 M376.12,603.11 L953.32,484.61 M341.46,583.38 L918.66,464.88 M306.8,563.65 L884,445.15 M272.14,543.92 L849.34,425.42 M237.48,524.19 L814.68,405.69 M202.82,504.46 L780.02,385.96 M168.16,484.73 L745.36,366.23 M133.5,465 L710.7,346.5 M480.1,662.3 L133.5,465 M516.18,654.89 L169.58,457.59 M552.25,647.49 L205.65,450.19 M588.33,640.08 L241.73,442.78 M624.4,632.68 L277.8,435.38 M660.48,625.27 L313.88,427.97 M696.55,617.86 L349.95,420.56 M732.62,610.46 L386.03,413.16 M768.7,603.05 L422.1,405.75 M804.78,595.65 L458.18,398.35 M840.85,588.24 L494.25,390.94 M876.93,580.83 L530.33,383.53 M913,573.43 L566.4,376.13 M949.08,566.02 L602.48,368.72 M985.15,558.62 L638.55,361.32 M1057.3,543.8 L710.7,346.5 M133.5,465 L133.5,148.9 M169.58,457.59 L169.58,141.49 M205.65,450.19 L205.65,134.09 M241.73,442.78 L241.73,126.68 M277.8,435.38 L277.8,119.28 M313.88,427.97 L313.88,111.87 M349.95,420.56 L349.95,104.46 M386.03,413.16 L386.03,97.06 M422.1,405.75 L422.1,89.65 M458.18,398.35 L458.18,82.25 M494.25,390.94 L494.25,74.84 M530.33,383.53 L530.33,67.43 M566.4,376.13 L566.4,60.03 M602.48,368.72 L602.48,52.62 M638.55,361.32 L638.55,45.22 M710.7,346.5 L710.7,30.4 M133.5,148.9 L710.7,30.4 M1057.3,543.8 L1057.3,227.7 M1022.64,524.07 L1022.64,207.97 M987.98,504.34 L987.98,188.24 M953.32,484.61 L953.32,168.51 M918.66,464.88 L918.66,148.78 M884,445.15 L884,129.05 M849.34,425.42 L849.34,109.32 M814.68,405.69 L814.68,89.59 M780.02,385.96 L780.02,69.86 M745.36,366.23 L745.36,50.13 M710.7,346.5 L710.7,30.4 M1057.3,227.7 L710.7,30.4" fill="none" stroke="#000" stroke-width="1"/>
<path d="M673.21,136.3 L745.36,139.87 L710.7,107.97 L638.55,110.25Z" fill="url(#g1)"/><path d="M673.21,136.3 L710.7,107.97 L638.55,110.25Z" fill="url(#g2)"/><path d="M673.21,136.3 L745.36,139.87 L710.7,107.97 L638.55,110.25Z" fill="#000" fill-opacity="0.035"/><path d="M637.14,133.29 L673.21,136.3 L638.55,110.25 L602.48,96.96Z" fill="url(#g3)"/><path d="M637.14,133.29 L638.55,110.25 L602.48,96.96Z" fill="url(#g4)"/><path d="M637.14,133.29 L673.21,136.3 L638.55,110.25 L602.48,96.96Z" fill="#000" fill-opacity="0.200"/><path d="M707.87,170 L780.02,162.91 L745.36,139.87 L673.21,136.3Z" fill="url(#g5)"/><path d="M707.87,170 L745.36,139.87 L673.21,136.3Z" fill="url(#g6)"/><path d="M707.87,170 L780.02,162.91 L745.36,139.87 L673.21,136.3Z" fill="#000" fill-opacity="0.055"/><path d="M601.06,118.23 L637.14,133.29 L602.48,96.96 L566.4,77.47Z" fill="url(#g7)"/><path d="M601.06,118.23 L602.48,96.96 L566.4,77.47Z" fill="url(#g8)"/><path d="M601.06,118.23 L637.14,133.29 L602.48,96.96 L566.4,77.47Z" fill="#000" fill-opacity="0.210"/><path d="M671.8,170.5 L707.87,170 L673.21,136.3 L637.14,133.29Z" fill="url(#g9)"/><path d="M671.8,170.5 L673.21,136.3 L637.14,133.29Z" fill="url(#g10)"/><path d="M671.8,170.5 L707.87,170 L673.21,136.3 L637.14,133.29Z" fill="#000" fill-opacity="0.060"/><path d="M564.99,120.88 L601.06,118.23 L566.4,77.47 L530.33,67.72Z" fill="url(#g11)"/><path d="M564.99,120.88 L566.4,77.47 L530.33,67.72Z" fill="url(#g12)"/><path d="M564.99,120.88 L601.06,118.23 L566.4,77.47 L530.33,67.72Z" fill="#000" fill-opacity="0.120"/><path d="M742.53,204.55 L814.68,186.83 L780.02,162.91 L707.87,170Z" fill="url(#g13)"/><path d="M742.53,204.55 L780.02,162.91 L707.87,170Z" fill="url(#g14)"/><path d="M635.72,167.85 L671.8,170.5 L637.14,133.29 L601.06,118.23Z" fill="url(#g15)"/><path d="M635.72,167.85 L637.14,133.29 L601.06,118.23Z" fill="url(#g16)"/><path d="M635.72,167.85 L671.8,170.5 L637.14,133.29 L601.06,118.23Z" fill="#000" fill-opacity="0.170"/><path d="M528.91,127.09 L564.99,120.88 L530.33,67.72 L494.25,75.16Z" fill="url(#g17)"/><path d="M528.91,127.09 L530.33,67.72 L494.25,75.16Z" fill="url(#g18)"/><path d="M492.84,162.53 L528.91,127.09 L494.25,75.16 L458.18,104.05Z" fill="url(#g19)"/><path d="M492.84,162.53 L494.25,75.16 L458.18,104.05Z" fill="url(#g20)"/><path d="M706.46,207.21 L742.53,204.55 L707.87,170 L671.8,170.5Z" fill="url(#g21)"/><path d="M706.46,207.21 L707.87,170 L671.8,170.5Z" fill="url(#g22)"/><path d="M706.46,207.21 L742.53,204.55 L707.87,170 L671.8,170.5Z" fill="#000" fill-opacity="0.040"/><path d="M599.65,173.32 L635.72,167.85 L601.06,118.23 L564.99,120.88Z" fill="url(#g23)"/><path d="M599.65,173.32 L601.06,118.23 L564.99,120.88Z" fill="url(#g24)"/><path d="M599.65,173.32 L635.72,167.85 L601.06,118.23 L564.99,120.88Z" fill="#000" fill-opacity="0.025"/><path d="M456.76,198.48 L492.84,162.53 L458.18,104.05 L422.1,125.85Z" fill="url(#g25)"/><path d="M456.76,198.48 L458.18,104.05 L422.1,125.85Z" fill="url(#g26)"/><path d="M777.19,238.48 L849.34,208.45 L814.68,186.83 L742.53,204.55Z" fill="url(#g27)"/><path d="M777.19,238.48 L814.68,186.83 L742.53,204.55Z" fill="url(#g28)"/><path d="M420.69,220.91 L456.76,198.48 L422.1,125.85 L386.03,150.12Z" fill="url(#g29)"/><path d="M420.69,220.91 L422.1,125.85 L386.03,150.12Z" fill="url(#g30)"/><path d="M563.57,187.49 L599.65,173.32 L564.99,120.88 L528.91,127.09Z" fill="url(#g31)"/><path d="M563.57,187.49 L564.99,120.88 L528.91,127.09Z" fill="url(#g32)"/><path d="M670.38,217.21 L706.46,207.21 L671.8,170.5 L635.72,167.85Z" fill="url(#g33)"/><path d="M670.38,217.21 L671.8,170.5 L635.72,167.85Z" fill="url(#g34)"/><path d="M670.38,217.21 L706.46,207.21 L671.8,170.5 L635.72,167.85Z" fill="#000" fill-opacity="0.055"/><path d="M527.5,221.87 L563.57,187.49 L528.91,127.09 L492.84,162.53Z" fill="url(#g35)"/><path d="M527.5,221.87 L528.91,127.09 L492.84,162.53Z" fill="url(#g36)"/><path d="M384.61,242.53 L420.69,220.91 L386.03,150.12 L349.95,166.71Z" fill="url(#g37)"/><path d="M384.61,242.53 L386.03,150.12 L349.95,166.71Z" fill="url(#g38)"/><path d="M634.31,226.83 L670.38,217.21 L635.72,167.85 L599.65,173.32Z" fill="url(#g39)"/><path d="M634.31,226.83 L635.72,167.85 L599.65,173.32Z" fill="url(#g40)"/><path d="M491.42,264.93 L527.5,221.87 L492.84,162.53 L456.76,198.48Z" fill="url(#g41)"/><path d="M491.42,264.93 L492.84,162.53 L456.76,198.48Z" fill="url(#g42)"/><path d="M741.12,251.77 L777.19,238.48 L742.53,204.55 L706.46,207.21Z" fill="url(#g43)"/><path d="M741.12,251.77 L742.53,204.55 L706.46,207.21Z" fill="url(#g44)"/><path d="M348.54,259.37 L384.61,242.53 L349.95,166.71 L313.88,202.68Z" fill="url(#g45)"/><path d="M348.54,259.37 L349.95,166.71 L313.88,202.68Z" fill="url(#g46)"/><path d="M455.35,291.26 L491.42,264.93 L456.76,198.48 L420.69,220.91Z" fill="url(#g47)"/><path d="M455.35,291.26 L456.76,198.48 L420.69,220.91Z" fill="url(#g48)"/><path d="M598.23,250.23 L634.31,226.83 L599.65,173.32 L563.57,187.49Z" fill="url(#g49)"/><path d="M598.23,250.23 L599.65,173.32 L563.57,187.49Z" fill="url(#g50)"/><path d="M312.46,270.53 L348.54,259.37 L313.88,202.68 L277.8,218.1Z" fill="url(#g51)"/><path d="M312.46,270.53 L313.88,202.68 L277.8,218.1Z" fill="url(#g52)"/><path d="M705.04,265.32 L741.12,251.77 L706.46,207.21 L670.38,217.21Z" fill="url(#g53)"/><path d="M705.04,265.32 L706.46,207.21 L670.38,217.21Z" fill="url(#g54)"/><path d="M811.85,280.91 L884,252.93 L849.34,208.45 L777.19,238.48Z" fill="url(#g55)"/><path d="M811.85,280.91 L849.34,208.45 L777.19,238.48Z" fill="url(#g56)"/><path d="M419.27,300.66 L455.35,291.26 L420.69,220.91 L384.61,242.53Z" fill="url(#g57)"/><path d="M419.27,300.66 L420.69,220.91 L384.61,242.53Z" fill="url(#g58)"/><path d="M562.16,272.25 L598.23,250.23 L563.57,187.49 L527.5,221.87Z" fill="url(#g59)"/><path d="M562.16,272.25 L563.57,187.49 L527.5,221.87Z" fill="url(#g60)"/><path d="M276.39,297.72 L312.46,270.53 L277.8,218.1 L241.73,247.34Z" fill="url(#g61)"/><path d="M276.39,297.72 L277.8,218.1 L241.73,247.34Z" fill="url(#g62)"/><path d="M526.08,320.63 L562.16,272.25 L527.5,221.87 L491.42,264.93Z" fill="url(#g63)"/><path d="M526.08,320.63 L527.5,221.87 L491.42,264.93Z" fill="url(#g64)"/><path d="M526.08,320.63 L562.16,272.25 L527.5,221.87 L491.42,264.93Z" fill="#000" fill-opacity="0.015"/><path d="M668.97,279.87 L705.04,265.32 L670.38,217.21 L634.31,226.83Z" fill="url(#g65)"/><path d="M668.97,279.87 L670.38,217.21 L634.31,226.83Z" fill="url(#g66)"/><path d="M383.2,324.93 L419.27,300.66 L384.61,242.53 L348.54,259.37Z" fill="url(#g67)"/><path d="M383.2,324.93 L384.61,242.53 L348.54,259.37Z" fill="url(#g68)"/><path d="M775.78,290.48 L811.85,280.91 L777.19,238.48 L741.12,251.77Z" fill="url(#g69)"/><path d="M775.78,290.48 L777.19,238.48 L741.12,251.77Z" fill="url(#g70)"/><path d="M490,339.87 L526.08,320.63 L491.42,264.93 L455.35,291.26Z" fill="url(#g71)"/><path d="M490,339.87 L491.42,264.93 L455.35,291.26Z" fill="url(#g72)"/><path d="M240.31,323.42 L276.39,297.72 L241.73,247.34 L205.65,261.87Z" fill="url(#g73)"/><path d="M240.31,323.42 L241.73,247.34 L205.65,261.87Z" fill="url(#g74)"/><path d="M632.89,302.02 L668.97,279.87 L634.31,226.83 L598.23,250.23Z" fill="url(#g75)"/><path d="M632.89,302.02 L634.31,226.83 L598.23,250.23Z" fill="url(#g76)"/><path d="M347.12,331.54 L383.2,324.93 L348.54,259.37 L312.46,270.53Z" fill="url(#g77)"/><path d="M347.12,331.54 L348.54,259.37 L312.46,270.53Z" fill="url(#g78)"/><path d="M204.24,353.01 L240.31,323.42 L205.65,261.87 L169.58,292.05Z" fill="url(#g79)"/><path d="M204.24,353.01 L205.65,261.87 L169.58,292.05Z" fill="url(#g80)"/><path d="M453.93,359.01 L490,339.87 L455.35,291.26 L419.27,300.66Z" fill="url(#g81)"/><path d="M453.93,359.01 L455.35,291.26 L419.27,300.66Z" fill="url(#g82)"/><path d="M739.7,310.51 L775.78,290.48 L741.12,251.77 L705.04,265.32Z" fill="url(#g83)"/><path d="M739.7,310.51 L741.12,251.77 L705.04,265.32Z" fill="url(#g84)"/><path d="M846.51,320.39 L918.66,297.52 L884,252.93 L811.85,280.91Z" fill="url(#g85)"/><path d="M846.51,320.39 L884,252.93 L811.85,280.91Z" fill="url(#g86)"/><path d="M596.82,314.07 L632.89,302.02 L598.23,250.23 L562.16,272.25Z" fill="url(#g87)"/><path d="M596.82,314.07 L598.23,250.23 L562.16,272.25Z" fill="url(#g88)"/><path d="M311.05,365.95 L347.12,331.54 L312.46,270.53 L276.39,297.72Z" fill="url(#g89)"/><path d="M311.05,365.95 L312.46,270.53 L276.39,297.72Z" fill="url(#g90)"/><path d="M168.16,373.04 L204.24,353.01 L169.58,292.05 L133.5,322.18Z" fill="url(#g91)"/><path d="M168.16,373.04 L169.58,292.05 L133.5,322.18Z" fill="url(#g92)"/><path d="M703.63,329.11 L739.7,310.51 L705.04,265.32 L668.97,279.87Z" fill="url(#g93)"/><path d="M703.63,329.11 L705.04,265.32 L668.97,279.87Z" fill="url(#g94)"/><path d="M417.86,370.53 L453.93,359.01 L419.27,300.66 L383.2,324.93Z" fill="url(#g95)"/><path d="M417.86,370.53 L419.27,300.66 L383.2,324.93Z" fill="url(#g96)"/><path d="M560.74,358.38 L596.82,314.07 L562.16,272.25 L526.08,320.63Z" fill="url(#g97)"/><path d="M560.74,358.38 L562.16,272.25 L526.08,320.63Z" fill="url(#g98)"/><path d="M560.74,358.38 L596.82,314.07 L562.16,272.25 L526.08,320.63Z" fill="#000" fill-opacity="0.040"/><path d="M274.97,375.69 L311.05,365.95 L276.39,297.72 L240.31,323.42Z" fill="url(#g99)"/><path d="M274.97,375.69 L276.39,297.72 L240.31,323.42Z" fill="url(#g100)"/><path d="M810.44,337.97 L846.51,320.39 L811.85,280.91 L775.78,290.48Z" fill="url(#g101)"/><path d="M810.44,337.97 L811.85,280.91 L775.78,290.48Z" fill="url(#g102)"/><path d="M524.66,380.4 L560.74,358.38 L526.08,320.63 L490,339.87Z" fill="url(#g103)"/><path d="M524.66,380.4 L526.08,320.63 L490,339.87Z" fill="url(#g104)"/><path d="M667.55,340.12 L703.63,329.11 L668.97,279.87 L632.89,302.02Z" fill="url(#g105)"/><path d="M667.55,340.12 L668.97,279.87 L632.89,302.02Z" fill="url(#g106)"/><path d="M381.78,377.97 L417.86,370.53 L383.2,324.93 L347.12,331.54Z" fill="url(#g107)"/><path d="M381.78,377.97 L383.2,324.93 L347.12,331.54Z" fill="url(#g108)"/><path d="M238.9,395.19 L274.97,375.69 L240.31,323.42 L204.24,353.01Z" fill="url(#g109)"/><path d="M238.9,395.19 L240.31,323.42 L204.24,353.01Z" fill="url(#g110)"/><path d="M488.59,390.38 L524.66,380.4 L490,339.87 L453.93,359.01Z" fill="url(#g111)"/><path d="M488.59,390.38 L490,339.87 L453.93,359.01Z" fill="url(#g112)"/><path d="M774.36,353.04 L810.44,337.97 L775.78,290.48 L739.7,310.51Z" fill="url(#g113)"/><path d="M774.36,353.04 L775.78,290.48 L739.7,310.51Z" fill="url(#g114)"/><path d="M881.17,346.79 L953.32,327.83 L918.66,297.52 L846.51,320.39Z" fill="url(#g115)"/><path d="M881.17,346.79 L918.66,297.52 L846.51,320.39Z" fill="url(#g116)"/><path d="M631.48,358.38 L667.55,340.12 L632.89,302.02 L596.82,314.07Z" fill="url(#g117)"/><path d="M631.48,358.38 L632.89,302.02 L596.82,314.07Z" fill="url(#g118)"/><path d="M345.71,397.11 L381.78,377.97 L347.12,331.54 L311.05,365.95Z" fill="url(#g119)"/><path d="M345.71,397.11 L347.12,331.54 L311.05,365.95Z" fill="url(#g120)"/><path d="M202.82,424.46 L238.9,395.19 L204.24,353.01 L168.16,373.04Z" fill="url(#g121)"/><path d="M202.82,424.46 L204.24,353.01 L168.16,373.04Z" fill="url(#g122)"/><path d="M738.29,369.87 L774.36,353.04 L739.7,310.51 L703.63,329.11Z" fill="url(#g123)"/><path d="M738.29,369.87 L739.7,310.51 L703.63,329.11Z" fill="url(#g124)"/><path d="M452.52,406.33 L488.59,390.38 L453.93,359.01 L417.86,370.53Z" fill="url(#g125)"/><path d="M452.52,406.33 L453.93,359.01 L417.86,370.53Z" fill="url(#g126)"/><path d="M595.4,395.29 L631.48,358.38 L596.82,314.07 L560.74,358.38Z" fill="url(#g127)"/><path d="M595.4,395.29 L596.82,314.07 L560.74,358.38Z" fill="url(#g128)"/><path d="M595.4,395.29 L631.48,358.38 L596.82,314.07 L560.74,358.38Z" fill="#000" fill-opacity="0.035"/><path d="M309.63,411.52 L345.71,397.11 L311.05,365.95 L274.97,375.69Z" fill="url(#g129)"/><path d="M309.63,411.52 L311.05,365.95 L274.97,375.69Z" fill="url(#g130)"/><path d="M559.33,417.09 L595.4,395.29 L560.74,358.38 L524.66,380.4Z" fill="url(#g131)"/><path d="M559.33,417.09 L560.74,358.38 L524.66,380.4Z" fill="url(#g132)"/><path d="M845.1,363.02 L881.17,346.79 L846.51,320.39 L810.44,337.97Z" fill="url(#g133)"/><path d="M845.1,363.02 L846.51,320.39 L810.44,337.97Z" fill="url(#g134)"/><path d="M702.21,376.96 L738.29,369.87 L703.63,329.11 L667.55,340.12Z" fill="url(#g135)"/><path d="M702.21,376.96 L703.63,329.11 L667.55,340.12Z" fill="url(#g136)"/><path d="M416.44,423.82 L452.52,406.33 L417.86,370.53 L381.78,377.97Z" fill="url(#g137)"/><path d="M416.44,423.82 L417.86,370.53 L381.78,377.97Z" fill="url(#g138)"/><path d="M273.56,442.53 L309.63,411.52 L274.97,375.69 L238.9,395.19Z" fill="url(#g139)"/><path d="M273.56,442.53 L274.97,375.69 L238.9,395.19Z" fill="url(#g140)"/><path d="M523.25,422.4 L559.33,417.09 L524.66,380.4 L488.59,390.38Z" fill="url(#g141)"/><path d="M523.25,422.4 L524.66,380.4 L488.59,390.38Z" fill="url(#g142)"/><path d="M809.02,378.38 L845.1,363.02 L810.44,337.97 L774.36,353.04Z" fill="url(#g143)"/><path d="M809.02,378.38 L810.44,337.97 L774.36,353.04Z" fill="url(#g144)"/><path d="M666.14,403.8 L702.21,376.96 L667.55,340.12 L631.48,358.38Z" fill="url(#g145)"/><path d="M666.14,403.8 L667.55,340.12 L631.48,358.38Z" fill="url(#g146)"/><path d="M237.48,462.38 L273.56,442.53 L238.9,395.19 L202.82,424.46Z" fill="url(#g147)"/><path d="M237.48,462.38 L238.9,395.19 L202.82,424.46Z" fill="url(#g148)"/><path d="M380.37,436.23 L416.44,423.82 L381.78,377.97 L345.71,397.11Z" fill="url(#g149)"/><path d="M380.37,436.23 L381.78,377.97 L345.71,397.11Z" fill="url(#g150)"/><path d="M915.83,372.93 L987.98,357.16 L953.32,327.83 L881.17,346.79Z" fill="url(#g151)"/><path d="M915.83,372.93 L953.32,327.83 L881.17,346.79Z" fill="url(#g152)"/><path d="M772.95,394.68 L809.02,378.38 L774.36,353.04 L738.29,369.87Z" fill="url(#g153)"/><path d="M772.95,394.68 L774.36,353.04 L738.29,369.87Z" fill="url(#g154)"/><path d="M630.06,421.87 L666.14,403.8 L631.48,358.38 L595.4,395.29Z" fill="url(#g155)"/><path d="M630.06,421.87 L631.48,358.38 L595.4,395.29Z" fill="url(#g156)"/><path d="M630.06,421.87 L666.14,403.8 L631.48,358.38 L595.4,395.29Z" fill="#000" fill-opacity="0.005"/><path d="M487.18,442.78 L523.25,422.4 L488.59,390.38 L452.52,406.33Z" fill="url(#g157)"/><path d="M487.18,442.78 L488.59,390.38 L452.52,406.33Z" fill="url(#g158)"/><path d="M344.29,455.72 L380.37,436.23 L345.71,397.11 L309.63,411.52Z" fill="url(#g159)"/><path d="M344.29,455.72 L345.71,397.11 L309.63,411.52Z" fill="url(#g160)"/><path d="M593.99,437.11 L630.06,421.87 L595.4,395.29 L559.33,417.09Z" fill="url(#g161)"/><path d="M593.99,437.11 L595.4,395.29 L559.33,417.09Z" fill="url(#g162)"/><path d="M593.99,437.11 L630.06,421.87 L595.4,395.29 L559.33,417.09Z" fill="#000" fill-opacity="0.016"/><path d="M879.76,388.58 L915.83,372.93 L881.17,346.79 L845.1,363.02Z" fill="url(#g163)"/><path d="M879.76,388.58 L881.17,346.79 L845.1,363.02Z" fill="url(#g164)"/><path d="M451.1,452.53 L487.18,442.78 L452.52,406.33 L416.44,423.82Z" fill="url(#g165)"/><path d="M451.1,452.53 L452.52,406.33 L416.44,423.82Z" fill="url(#g166)"/><path d="M736.87,411.87 L772.95,394.68 L738.29,369.87 L702.21,376.96Z" fill="url(#g167)"/><path d="M736.87,411.87 L738.29,369.87 L702.21,376.96Z" fill="url(#g168)"/><path d="M308.22,480.63 L344.29,455.72 L309.63,411.52 L273.56,442.53Z" fill="url(#g169)"/><path d="M308.22,480.63 L309.63,411.52 L273.56,442.53Z" fill="url(#g170)"/><path d="M557.91,452.4 L593.99,437.11 L559.33,417.09 L523.25,422.4Z" fill="url(#g171)"/><path d="M557.91,452.4 L559.33,417.09 L523.25,422.4Z" fill="url(#g172)"/><path d="M700.8,428.35 L736.87,411.87 L702.21,376.96 L666.14,403.8Z" fill="url(#g173)"/><path d="M700.8,428.35 L702.21,376.96 L666.14,403.8Z" fill="url(#g174)"/><path d="M700.8,428.35 L736.87,411.87 L702.21,376.96 L666.14,403.8Z" fill="#000" fill-opacity="0.006"/><path d="M272.14,491.8 L308.22,480.63 L273.56,442.53 L237.48,462.38Z" fill="url(#g175)"/><path d="M272.14,491.8 L273.56,442.53 L237.48,462.38Z" fill="url(#g176)"/><path d="M843.68,403.63 L879.76,388.58 L845.1,363.02 L809.02,378.38Z" fill="url(#g177)"/><path d="M843.68,403.63 L845.1,363.02 L809.02,378.38Z" fill="url(#g178)"/><path d="M415.03,462.28 L451.1,452.53 L416.44,423.82 L380.37,436.23Z" fill="url(#g179)"/><path d="M415.03,462.28 L416.44,423.82 L380.37,436.23Z" fill="url(#g180)"/><path d="M950.49,415.37 L1022.64,400.9 L987.98,357.16 L915.83,372.93Z" fill="url(#g181)"/><path d="M950.49,415.37 L987.98,357.16 L915.83,372.93Z" fill="url(#g182)"/><path d="M664.72,446.2 L700.8,428.35 L666.14,403.8 L630.06,421.87Z" fill="url(#g183)"/><path d="M664.72,446.2 L666.14,403.8 L630.06,421.87Z" fill="url(#g184)"/><path d="M664.72,446.2 L700.8,428.35 L666.14,403.8 L630.06,421.87Z" fill="#000" fill-opacity="0.010"/><path d="M521.84,460.91 L557.91,452.4 L523.25,422.4 L487.18,442.78Z" fill="url(#g185)"/><path d="M521.84,460.91 L523.25,422.4 L487.18,442.78Z" fill="url(#g186)"/><path d="M807.61,419.49 L843.68,403.63 L809.02,378.38 L772.95,394.68Z" fill="url(#g187)"/><path d="M807.61,419.49 L809.02,378.38 L772.95,394.68Z" fill="url(#g188)"/><path d="M378.95,487.19 L415.03,462.28 L380.37,436.23 L344.29,455.72Z" fill="url(#g189)"/><path d="M378.95,487.19 L380.37,436.23 L344.29,455.72Z" fill="url(#g190)"/><path d="M378.95,487.19 L415.03,462.28 L380.37,436.23 L344.29,455.72Z" fill="#000" fill-opacity="0.010"/><path d="M914.42,431.01 L950.49,415.37 L915.83,372.93 L879.76,388.58Z" fill="url(#g191)"/><path d="M914.42,431.01 L915.83,372.93 L879.76,388.58Z" fill="url(#g192)"/><path d="M628.64,460.38 L664.72,446.2 L630.06,421.87 L593.99,437.11Z" fill="url(#g193)"/><path d="M628.64,460.38 L630.06,421.87 L593.99,437.11Z" fill="url(#g194)"/><path d="M342.88,508.99 L378.95,487.19 L344.29,455.72 L308.22,480.63Z" fill="url(#g195)"/><path d="M342.88,508.99 L344.29,455.72 L308.22,480.63Z" fill="url(#g196)"/><path d="M342.88,508.99 L378.95,487.19 L344.29,455.72 L308.22,480.63Z" fill="#000" fill-opacity="0.010"/><path d="M771.53,437.21 L807.61,419.49 L772.95,394.68 L736.87,411.87Z" fill="url(#g197)"/><path d="M771.53,437.21 L772.95,394.68 L736.87,411.87Z" fill="url(#g198)"/><path d="M771.53,437.21 L807.61,419.49 L772.95,394.68 L736.87,411.87Z" fill="#000" fill-opacity="0.006"/><path d="M485.76,472.91 L521.84,460.91 L487.18,442.78 L451.1,452.53Z" fill="url(#g199)"/><path d="M485.76,472.91 L487.18,442.78 L451.1,452.53Z" fill="url(#g200)"/><path d="M878.34,445.28 L914.42,431.01 L879.76,388.58 L843.68,403.63Z" fill="url(#g201)"/><path d="M878.34,445.28 L879.76,388.58 L843.68,403.63Z" fill="url(#g202)"/><path d="M306.8,519.62 L342.88,508.99 L308.22,480.63 L272.14,491.8Z" fill="url(#g203)"/><path d="M306.8,519.62 L308.22,480.63 L272.14,491.8Z" fill="url(#g204)"/><path d="M985.15,449.19 L1057.3,433.55 L1022.64,400.9 L950.49,415.37Z" fill="url(#g205)"/><path d="M985.15,449.19 L1022.64,400.9 L950.49,415.37Z" fill="url(#g206)"/><path d="M592.57,475.44 L628.64,460.38 L593.99,437.11 L557.91,452.4Z" fill="url(#g207)"/><path d="M592.57,475.44 L593.99,437.11 L557.91,452.4Z" fill="url(#g208)"/><path d="M592.57,475.44 L628.64,460.38 L593.99,437.11 L557.91,452.4Z" fill="#000" fill-opacity="0.005"/><path d="M735.46,453.82 L771.53,437.21 L736.87,411.87 L700.8,428.35Z" fill="url(#g209)"/><path d="M735.46,453.82 L736.87,411.87 L700.8,428.35Z" fill="url(#g210)"/><path d="M449.69,487.72 L485.76,472.91 L451.1,452.53 L415.03,462.28Z" fill="url(#g211)"/><path d="M449.69,487.72 L451.1,452.53 L415.03,462.28Z" fill="url(#g212)"/><path d="M842.27,460.91 L878.34,445.28 L843.68,403.63 L807.61,419.49Z" fill="url(#g213)"/><path d="M842.27,460.91 L843.68,403.63 L807.61,419.49Z" fill="url(#g214)"/><path d="M699.38,469.24 L735.46,453.82 L700.8,428.35 L664.72,446.2Z" fill="url(#g215)"/><path d="M699.38,469.24 L700.8,428.35 L664.72,446.2Z" fill="url(#g216)"/><path d="M699.38,469.24 L735.46,453.82 L700.8,428.35 L664.72,446.2Z" fill="#000" fill-opacity="0.006"/><path d="M556.5,486.96 L592.57,475.44 L557.91,452.4 L521.84,460.91Z" fill="url(#g217)"/><path d="M556.5,486.96 L557.91,452.4 L521.84,460.91Z" fill="url(#g218)"/><path d="M413.61,508.1 L449.69,487.72 L415.03,462.28 L378.95,487.19Z" fill="url(#g219)"/><path d="M413.61,508.1 L415.03,462.28 L378.95,487.19Z" fill="url(#g220)"/><path d="M413.61,508.1 L449.69,487.72 L415.03,462.28 L378.95,487.19Z" fill="#000" fill-opacity="0.029"/><path d="M949.08,463.47 L985.15,449.19 L950.49,415.37 L914.42,431.01Z" fill="url(#g221)"/><path d="M949.08,463.47 L950.49,415.37 L914.42,431.01Z" fill="url(#g222)"/><path d="M806.19,478.1 L842.27,460.91 L807.61,419.49 L771.53,437.21Z" fill="url(#g223)"/><path d="M806.19,478.1 L807.61,419.49 L771.53,437.21Z" fill="url(#g224)"/><path d="M377.54,538.23 L413.61,508.1 L378.95,487.19 L342.88,508.99Z" fill="url(#g225)"/><path d="M377.54,538.23 L378.95,487.19 L342.88,508.99Z" fill="url(#g226)"/><path d="M377.54,538.23 L413.61,508.1 L378.95,487.19 L342.88,508.99Z" fill="#000" fill-opacity="0.040"/><path d="M663.31,482.53 L699.38,469.24 L664.72,446.2 L628.64,460.38Z" fill="url(#g227)"/><path d="M663.31,482.53 L664.72,446.2 L628.64,460.38Z" fill="url(#g228)"/><path d="M520.42,497.59 L556.5,486.96 L521.84,460.91 L485.76,472.91Z" fill="url(#g229)"/><path d="M520.42,497.59 L521.84,460.91 L485.76,472.91Z" fill="url(#g230)"/><path d="M913,477.55 L949.08,463.47 L914.42,431.01 L878.34,445.28Z" fill="url(#g231)"/><path d="M913,477.55 L914.42,431.01 L878.34,445.28Z" fill="url(#g232)"/><path d="M770.12,494.05 L806.19,478.1 L771.53,437.21 L735.46,453.82Z" fill="url(#g233)"/><path d="M770.12,494.05 L771.53,437.21 L735.46,453.82Z" fill="url(#g234)"/><path d="M341.46,547.09 L377.54,538.23 L342.88,508.99 L306.8,519.62Z" fill="url(#g235)"/><path d="M341.46,547.09 L342.88,508.99 L306.8,519.62Z" fill="url(#g236)"/><path d="M627.23,497.59 L663.31,482.53 L628.64,460.38 L592.57,475.44Z" fill="url(#g237)"/><path d="M627.23,497.59 L628.64,460.38 L592.57,475.44Z" fill="url(#g238)"/><path d="M627.23,497.59 L663.31,482.53 L628.64,460.38 L592.57,475.44Z" fill="#000" fill-opacity="0.008"/><path d="M484.35,514.3 L520.42,497.59 L485.76,472.91 L449.69,487.72Z" fill="url(#g239)"/><path d="M484.35,514.3 L485.76,472.91 L449.69,487.72Z" fill="url(#g240)"/><path d="M876.93,492.8 L913,477.55 L878.34,445.28 L842.27,460.91Z" fill="url(#g241)"/><path d="M876.93,492.8 L878.34,445.28 L842.27,460.91Z" fill="url(#g242)"/><path d="M734.04,507.34 L770.12,494.05 L735.46,453.82 L699.38,469.24Z" fill="url(#g243)"/><path d="M734.04,507.34 L735.46,453.82 L699.38,469.24Z" fill="url(#g244)"/><path d="M591.15,511.77 L627.23,497.59 L592.57,475.44 L556.5,486.96Z" fill="url(#g245)"/><path d="M591.15,511.77 L592.57,475.44 L556.5,486.96Z" fill="url(#g246)"/><path d="M448.27,545.31 L484.35,514.3 L449.69,487.72 L413.61,508.1Z" fill="url(#g247)"/><path d="M448.27,545.31 L449.69,487.72 L413.61,508.1Z" fill="url(#g248)"/><path d="M448.27,545.31 L484.35,514.3 L449.69,487.72 L413.61,508.1Z" fill="#000" fill-opacity="0.012"/><path d="M840.85,509.11 L876.93,492.8 L842.27,460.91 L806.19,478.1Z" fill="url(#g249)"/><path d="M840.85,509.11 L842.27,460.91 L806.19,478.1Z" fill="url(#g250)"/><path d="M412.2,572.77 L448.27,545.31 L413.61,508.1 L377.54,538.23Z" fill="url(#g251)"/><path d="M412.2,572.77 L413.61,508.1 L377.54,538.23Z" fill="url(#g252)"/><path d="M412.2,572.77 L448.27,545.31 L413.61,508.1 L377.54,538.23Z" fill="#000" fill-opacity="0.009"/><path d="M697.97,520.63 L734.04,507.34 L699.38,469.24 L663.31,482.53Z" fill="url(#g253)"/><path d="M697.97,520.63 L699.38,469.24 L663.31,482.53Z" fill="url(#g254)"/><path d="M555.08,525.95 L591.15,511.77 L556.5,486.96 L520.42,497.59Z" fill="url(#g255)"/><path d="M555.08,525.95 L556.5,486.96 L520.42,497.59Z" fill="url(#g256)"/><path d="M804.78,525.06 L840.85,509.11 L806.19,478.1 L770.12,494.05Z" fill="url(#g257)"/><path d="M804.78,525.06 L806.19,478.1 L770.12,494.05Z" fill="url(#g258)"/><path d="M376.12,581.29 L412.2,572.77 L377.54,538.23 L341.46,547.09Z" fill="url(#g259)"/><path d="M376.12,581.29 L377.54,538.23 L341.46,547.09Z" fill="url(#g260)"/><path d="M661.89,532.15 L697.97,520.63 L663.31,482.53 L627.23,497.59Z" fill="url(#g261)"/><path d="M661.89,532.15 L663.31,482.53 L627.23,497.59Z" fill="url(#g262)"/><path d="M519.01,549.74 L555.08,525.95 L520.42,497.59 L484.35,514.3Z" fill="url(#g263)"/><path d="M519.01,549.74 L520.42,497.59 L484.35,514.3Z" fill="url(#g264)"/><path d="M768.7,535.59 L804.78,525.06 L770.12,494.05 L734.04,507.34Z" fill="url(#g265)"/><path d="M768.7,535.59 L770.12,494.05 L734.04,507.34Z" fill="url(#g266)"/><path d="M482.93,580.74 L519.01,549.74 L484.35,514.3 L448.27,545.31Z" fill="url(#g267)"/><path d="M482.93,580.74 L484.35,514.3 L448.27,545.31Z" fill="url(#g268)"/><path d="M482.93,580.74 L519.01,549.74 L484.35,514.3 L448.27,545.31Z" fill="#000" fill-opacity="0.025"/><path d="M625.82,554.3 L661.89,532.15 L627.23,497.59 L591.15,511.77Z" fill="url(#g269)"/><path d="M625.82,554.3 L627.23,497.59 L591.15,511.77Z" fill="url(#g270)"/><path d="M446.86,606.96 L482.93,580.74 L448.27,545.31 L412.2,572.77Z" fill="url(#g271)"/><path d="M446.86,606.96 L448.27,545.31 L412.2,572.77Z" fill="url(#g272)"/><path d="M446.86,606.96 L482.93,580.74 L448.27,545.31 L412.2,572.77Z" fill="#000" fill-opacity="0.006"/><path d="M732.62,546.58 L768.7,535.59 L734.04,507.34 L697.97,520.63Z" fill="url(#g273)"/><path d="M732.62,546.58 L734.04,507.34 L697.97,520.63Z" fill="url(#g274)"/><path d="M589.74,575.43 L625.82,554.3 L591.15,511.77 L555.08,525.95Z" fill="url(#g275)"/><path d="M589.74,575.43 L591.15,511.77 L555.08,525.95Z" fill="url(#g276)"/><path d="M410.78,613.52 L446.86,606.96 L412.2,572.77 L376.12,581.29Z" fill="url(#g277)"/><path d="M410.78,613.52 L412.2,572.77 L376.12,581.29Z" fill="url(#g278)"/><path d="M696.55,558.1 L732.62,546.58 L697.97,520.63 L661.89,532.15Z" fill="url(#g279)"/><path d="M696.55,558.1 L697.97,520.63 L661.89,532.15Z" fill="url(#g280)"/><path d="M553.67,587.83 L589.74,575.43 L555.08,525.95 L519.01,549.74Z" fill="url(#g281)"/><path d="M553.67,587.83 L555.08,525.95 L519.01,549.74Z" fill="url(#g282)"/><path d="M517.59,600.23 L553.67,587.83 L519.01,549.74 L482.93,580.74Z" fill="url(#g283)"/><path d="M517.59,600.23 L519.01,549.74 L482.93,580.74Z" fill="url(#g284)"/><path d="M517.59,600.23 L553.67,587.83 L519.01,549.74 L482.93,580.74Z" fill="#000" fill-opacity="0.009"/><path d="M660.48,569.62 L696.55,558.1 L661.89,532.15 L625.82,554.3Z" fill="url(#g285)"/><path d="M660.48,569.62 L661.89,532.15 L625.82,554.3Z" fill="url(#g286)"/><path d="M660.48,569.62 L696.55,558.1 L661.89,532.15 L625.82,554.3Z" fill="#000" fill-opacity="0.018"/><path d="M481.52,626.8 L517.59,600.23 L482.93,580.74 L446.86,606.96Z" fill="url(#g287)"/><path d="M481.52,626.8 L482.93,580.74 L446.86,606.96Z" fill="url(#g288)"/><path d="M481.52,626.8 L517.59,600.23 L482.93,580.74 L446.86,606.96Z" fill="#000" fill-opacity="0.050"/><path d="M624.4,597.97 L660.48,569.62 L625.82,554.3 L589.74,575.43Z" fill="url(#g289)"/><path d="M624.4,597.97 L625.82,554.3 L589.74,575.43Z" fill="url(#g290)"/><path d="M624.4,597.97 L660.48,569.62 L625.82,554.3 L589.74,575.43Z" fill="#000" fill-opacity="0.060"/><path d="M445.44,633.89 L481.52,626.8 L446.86,606.96 L410.78,613.52Z" fill="#f47531"/><path d="M445.44,633.89 L446.86,606.96 L410.78,613.52Z" fill="url(#g291)"/><path d="M588.33,617.95 L624.4,597.97 L589.74,575.43 L553.67,587.83Z" fill="url(#g292)"/><path d="M588.33,617.95 L589.74,575.43 L553.67,587.83Z" fill="url(#g293)"/><path d="M552.25,628.57 L588.33,617.95 L553.67,587.83 L517.59,600.23Z" fill="url(#g294)"/><path d="M552.25,628.57 L553.67,587.83 L517.59,600.23Z" fill="url(#g295)"/><path d="M516.18,654.89 L552.25,628.57 L517.59,600.23 L481.52,626.8Z" fill="url(#g296)"/><path d="M516.18,654.89 L517.59,600.23 L481.52,626.8Z" fill="url(#g297)"/><path d="M516.18,654.89 L552.25,628.57 L517.59,600.23 L481.52,626.8Z" fill="#000" fill-opacity="0.026"/><path d="M480.1,662.3 L516.18,654.89 L481.52,626.8 L445.44,633.89Z" fill="url(#g298)"/><path d="M480.1,662.3 L481.52,626.8 L445.44,633.89Z" fill="url(#g299)"/><path d="M480.1,662.3 L516.18,654.89 L552.25,628.57 L588.33,617.95 L624.4,597.97 L660.48,569.62 L696.55,558.1 L732.62,546.58 L768.7,535.59 L804.78,525.06 L840.85,509.11 L876.93,492.8 L913,477.55 L949.08,463.47 L985.15,449.19 L1057.3,433.55 M445.44,633.89 L481.52,626.8 L517.59,600.23 L553.67,587.83 L589.74,575.43 L625.82,554.3 L661.89,532.15 L697.97,520.63 L734.04,507.34 L770.12,494.05 L806.19,478.1 L842.27,460.91 L878.34,445.28 L914.42,431.01 L950.49,415.37 L1022.64,400.9 M410.78,613.52 L446.86,606.96 L482.93,580.74 L519.01,549.74 L555.08,525.95 L591.15,511.77 L627.23,497.59 L663.31,482.53 L699.38,469.24 L735.46,453.82 L771.53,437.21 L807.61,419.49 L843.68,403.63 L879.76,388.58 L915.83,372.93 L987.98,357.16 M376.12,581.29 L412.2,572.77 L448.27,545.31 L484.35,514.3 L520.42,497.59 L556.5,486.96 L592.57,475.44 L628.64,460.38 L664.72,446.2 L700.8,428.35 L736.87,411.87 L772.95,394.68 L809.02,378.38 L845.1,363.02 L881.17,346.79 L953.32,327.83 M341.46,547.09 L377.54,538.23 L413.61,508.1 L449.69,487.72 L485.76,472.91 L521.84,460.91 L557.91,452.4 L593.99,437.11 L630.06,421.87 L666.14,403.8 L702.21,376.96 L738.29,369.87 L774.36,353.04 L810.44,337.97 L846.51,320.39 L918.66,297.52 M306.8,519.62 L342.88,508.99 L378.95,487.19 L415.03,462.28 L451.1,452.53 L487.18,442.78 L523.25,422.4 L559.33,417.09 L595.4,395.29 L631.48,358.38 L667.55,340.12 L703.63,329.11 L739.7,310.51 L775.78,290.48 L811.85,280.91 L884,252.93 M272.14,491.8 L308.22,480.63 L344.29,455.72 L380.37,436.23 L416.44,423.82 L452.52,406.33 L488.59,390.38 L524.66,380.4 L560.74,358.38 L596.82,314.07 L632.89,302.02 L668.97,279.87 L705.04,265.32 L741.12,251.77 L777.19,238.48 L849.34,208.45 M237.48,462.38 L273.56,442.53 L309.63,411.52 L345.71,397.11 L381.78,377.97 L417.86,370.53 L453.93,359.01 L490,339.87 L526.08,320.63 L562.16,272.25 L598.23,250.23 L634.31,226.83 L670.38,217.21 L706.46,207.21 L742.53,204.55 L814.68,186.83 M202.82,424.46 L238.9,395.19 L274.97,375.69 L311.05,365.95 L347.12,331.54 L383.2,324.93 L419.27,300.66 L455.35,291.26 L491.42,264.93 L527.5,221.87 L563.57,187.49 L599.65,173.32 L635.72,167.85 L671.8,170.5 L707.87,170 L780.02,162.91 M168.16,373.04 L204.24,353.01 L240.31,323.42 L276.39,297.72 L312.46,270.53 L348.54,259.37 L384.61,242.53 L420.69,220.91 L456.76,198.48 L492.84,162.53 L528.91,127.09 L564.99,120.88 L601.06,118.23 L637.14,133.29 L673.21,136.3 L745.36,139.87 M133.5,322.18 L169.58,292.05 L205.65,261.87 L241.73,247.34 L277.8,218.1 L313.88,202.68 L349.95,166.71 L386.03,150.12 L422.1,125.85 L458.18,104.05 L494.25,75.16 L530.33,67.72 L566.4,77.47 L602.48,96.96 L638.55,110.25 L710.7,107.97 M480.1,662.3 L445.44,633.89 L410.78,613.52 L376.12,581.29 L341.46,547.09 L306.8,519.62 L272.14,491.8 L237.48,462.38 L202.82,424.46 L168.16,373.04 L133.5,322.18 M516.18,654.89 L481.52,626.8 L446.86,606.96 L412.2,572.77 L377.54,538.23 L342.88,508.99 L308.22,480.63 L273.56,442.53 L238.9,395.19 L204.24,353.01 L169.58,292.05 M552.25,628.57 L517.59,600.23 L482.93,580.74 L448.27,545.31 L413.61,508.1 L378.95,487.19 L344.29,455.72 L309.63,411.52 L274.97,375.69 L240.31,323.42 L205.65,261.87 M588.33,617.95 L553.67,587.83 L519.01,549.74 L484.35,514.3 L449.69,487.72 L415.03,462.28 L380.37,436.23 L345.71,397.11 L311.05,365.95 L276.39,297.72 L241.73,247.34 M624.4,597.97 L589.74,575.43 L555.08,525.95 L520.42,497.59 L485.76,472.91 L451.1,452.53 L416.44,423.82 L381.78,377.97 L347.12,331.54 L312.46,270.53 L277.8,218.1 M660.48,569.62 L625.82,554.3 L591.15,511.77 L556.5,486.96 L521.84,460.91 L487.18,442.78 L452.52,406.33 L417.86,370.53 L383.2,324.93 L348.54,259.37 L313.88,202.68 M696.55,558.1 L661.89,532.15 L627.23,497.59 L592.57,475.44 L557.91,452.4 L523.25,422.4 L488.59,390.38 L453.93,359.01 L419.27,300.66 L384.61,242.53 L349.95,166.71 M732.62,546.58 L697.97,520.63 L663.31,482.53 L628.64,460.38 L593.99,437.11 L559.33,417.09 L524.66,380.4 L490,339.87 L455.35,291.26 L420.69,220.91 L386.03,150.12 M768.7,535.59 L734.04,507.34 L699.38,469.24 L664.72,446.2 L630.06,421.87 L595.4,395.29 L560.74,358.38 L526.08,320.63 L491.42,264.93 L456.76,198.48 L422.1,125.85 M804.78,525.06 L770.12,494.05 L735.46,453.82 L700.8,428.35 L666.14,403.8 L631.48,358.38 L596.82,314.07 L562.16,272.25 L527.5,221.87 L492.84,162.53 L458.18,104.05 M840.85,509.11 L806.19,478.1 L771.53,437.21 L736.87,411.87 L702.21,376.96 L667.55,340.12 L632.89,302.02 L598.23,250.23 L563.57,187.49 L528.91,127.09 L494.25,75.16 M876.93,492.8 L842.27,460.91 L807.61,419.49 L772.95,394.68 L738.29,369.87 L703.63,329.11 L668.97,279.87 L634.31,226.83 L599.65,173.32 L564.99,120.88 L530.33,67.72 M913,477.55 L878.34,445.28 L843.68,403.63 L809.02,378.38 L774.36,353.04 L739.7,310.51 L705.04,265.32 L670.38,217.21 L635.72,167.85 L601.06,118.23 L566.4,77.47 M949.08,463.47 L914.42,431.01 L879.76,388.58 L845.1,363.02 L810.44,337.97 L775.78,290.48 L741.12,251.77 L706.46,207.21 L671.8,170.5 L637.14,133.29 L602.48,96.96 M985.15,449.19 L950.49,415.37 L915.83,372.93 L881.17,346.79 L846.51,320.39 L811.85,280.91 L777.19,238.48 L742.53,204.55 L707.87,170 L673.21,136.3 L638.55,110.25 M1057.3,433.55 L1022.64,400.9 L987.98,357.16 L953.32,327.83 L918.66,297.52 L884,252.93 L849.34,208.45 L814.68,186.83 L780.02,162.91 L745.36,139.87 L710.7,107.97" fill="none" class="gl"/><path d="M480.1,662.3 L516.18,654.89 L552.25,628.57 L588.33,617.95 L624.4,597.97 L660.48,569.62 L696.55,558.1 L732.62,546.58 L768.7,535.59 L804.78,525.06 L840.85,509.11 L876.93,492.8 L913,477.55 L949.08,463.47 L985.15,449.19 L1057.3,433.55 L1022.64,400.9 L987.98,357.16 L953.32,327.83 L918.66,297.52 L884,252.93 L849.34,208.45 L814.68,186.83 L780.02,162.91 L745.36,139.87 L710.7,107.97 L638.55,110.25 L602.48,96.96 L566.4,77.47 L530.33,67.72 L494.25,75.16 L458.18,104.05 L422.1,125.85 L386.03,150.12 L349.95,166.71 L313.88,202.68 L277.8,218.1 L241.73,247.34 L205.65,261.87 L169.58,292.05 L133.5,322.18 L168.16,373.04 L202.82,424.46 L237.48,462.38 L272.14,491.8 L306.8,519.62 L341.46,547.09 L376.12,581.29 L410.78,613.52 L445.44,633.89Z" fill="none" stroke="#000" stroke-opacity="0.9" stroke-width="0.95" stroke-linejoin="round"/>
<text x="19.7" y="482.8" textLength="76.2" lengthAdjust="spacingAndGlyphs">101.3 kPa (Abs.)</text><text x="180.5" y="582.0" textLength="87.9" lengthAdjust="spacingAndGlyphs">Manifold Pressure</text><text x="377.9" y="680.6" textLength="64.3" lengthAdjust="spacingAndGlyphs">1.3 kPa (Abs.)</text><text x="503.4" y="684.7" textLength="31.0" lengthAdjust="spacingAndGlyphs">0 RPM</text><text x="792.8" y="626.0" textLength="21.4" lengthAdjust="spacingAndGlyphs">RPM</text><text x="1080.4" y="566.7" textLength="48.8" lengthAdjust="spacingAndGlyphs">8000 RPM</text>
</svg>
</body></html>
